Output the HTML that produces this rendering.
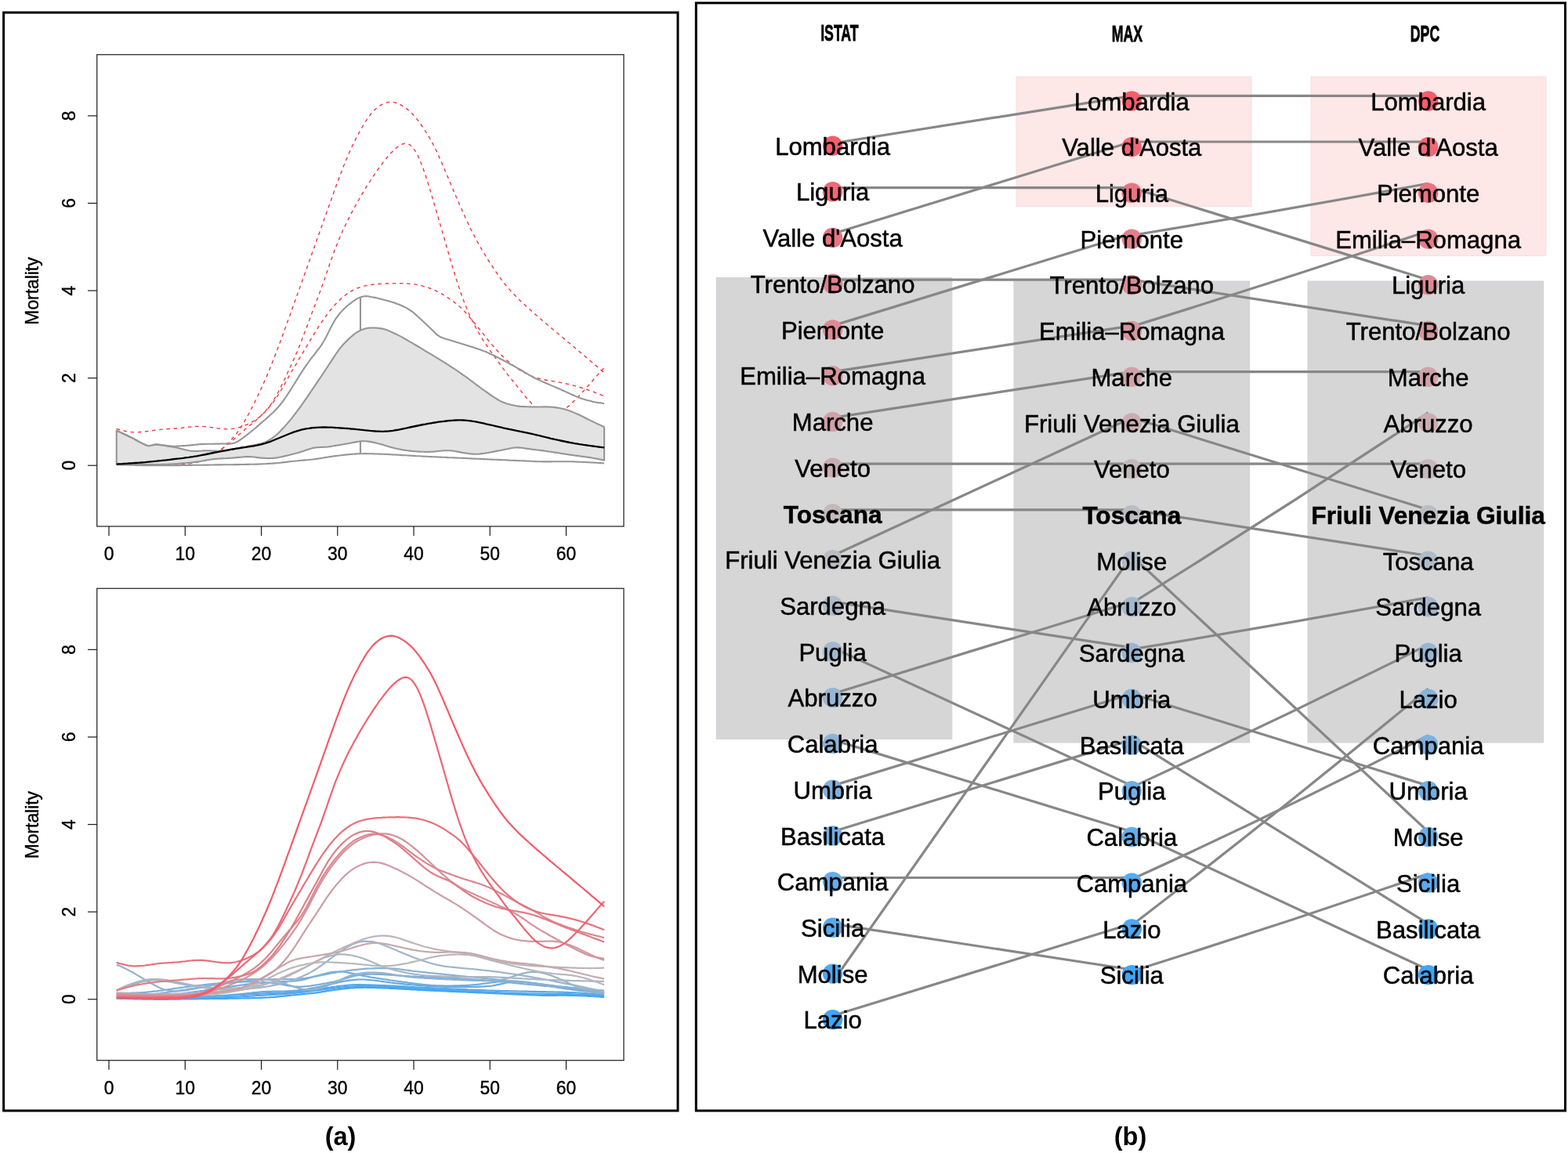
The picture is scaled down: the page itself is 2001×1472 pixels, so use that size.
<!DOCTYPE html>
<html lang="en"><head><meta charset="utf-8"><title>Figure</title>
<style>
html,body{margin:0;padding:0;background:#fff;}
body{width:2001px;height:1472px;overflow:hidden;}
svg{display:block;}
text{font-family:"Liberation Sans",sans-serif;fill:#000;}
.ax{font-size:23.8px;stroke:#000;stroke-width:0.4px;}
.lb{font-size:31.1px;stroke:#000;stroke-width:0.5px;}
.hd{font-size:30px;font-weight:bold;stroke:#000;stroke-width:0.8px;}
.cap{font-size:32.5px;font-weight:bold;}
</style></head>
<body>
<svg width="2001" height="1472" viewBox="0 0 2001 1472">
<rect x="0" y="0" width="2001" height="1472" fill="#fff"/>
<g id="panel-a">
<rect x="4.6" y="16" width="860.4" height="1402" fill="#fff" stroke="#000" stroke-width="3"/>
<g id="top-plot">
<path d="M148.7 592.6 L151.2 592.6 L153.6 592.7 L156.0 592.7 L158.4 592.7 L160.9 592.8 L163.3 592.8 L165.7 592.9 L168.2 592.9 L170.6 592.9 L173.0 593.0 L175.5 593.0 L177.9 593.0 L180.3 593.0 L182.8 593.1 L185.2 593.1 L187.6 593.1 L190.1 593.1 L192.5 593.2 L194.9 593.2 L197.3 593.2 L199.8 593.2 L202.2 593.2 L204.6 593.2 L207.1 593.2 L209.5 593.2 L211.9 593.2 L214.4 593.2 L216.8 593.2 L219.2 593.2 L221.7 593.1 L224.1 593.1 L226.5 593.0 L229.0 592.9 L231.4 592.8 L233.8 592.7 L236.2 592.5 L238.7 592.2 L241.1 592.0 L243.5 591.7 L246.0 591.3 L248.4 590.9 L250.8 590.4 L253.3 589.8 L255.7 589.2 L258.1 588.4 L260.6 587.5 L263.0 586.5 L265.4 585.4 L267.9 584.1 L270.3 582.7 L272.7 581.2 L275.1 579.5 L277.6 577.7 L280.0 575.8 L282.4 573.8 L284.9 571.7 L287.3 569.4 L289.7 567.1 L292.2 564.6 L294.6 562.0 L297.0 559.3 L299.5 556.4 L301.9 553.3 L304.3 550.0 L306.8 546.4 L309.2 542.6 L311.6 538.7 L314.0 534.4 L316.5 530.0 L318.9 525.5 L321.3 520.8 L323.8 516.0 L326.2 511.0 L328.6 506.0 L331.1 500.9 L333.5 495.7 L335.9 490.3 L338.4 484.8 L340.8 479.2 L343.2 473.4 L345.7 467.5 L348.1 461.4 L350.5 455.2 L352.9 448.9 L355.4 442.4 L357.8 435.9 L360.2 429.3 L362.7 422.6 L365.1 415.9 L367.5 409.1 L370.0 402.4 L372.4 395.6 L374.8 388.8 L377.3 382.0 L379.7 375.2 L382.1 368.4 L384.6 361.7 L387.0 354.9 L389.4 348.1 L391.9 341.4 L394.3 334.6 L396.7 327.8 L399.1 321.0 L401.6 314.2 L404.0 307.4 L406.4 300.5 L408.9 293.7 L411.3 286.8 L413.7 279.9 L416.2 273.1 L418.6 266.2 L421.0 259.4 L423.5 252.6 L425.9 245.8 L428.3 239.1 L430.8 232.5 L433.2 226.0 L435.6 219.6 L438.0 213.3 L440.5 207.2 L442.9 201.4 L445.3 195.7 L447.8 190.2 L450.2 185.1 L452.6 180.1 L455.1 175.3 L457.5 170.7 L459.9 166.3 L462.4 162.0 L464.8 157.9 L467.2 154.0 L469.6 150.4 L472.1 147.1 L474.5 144.1 L476.9 141.4 L479.4 139.1 L481.8 137.1 L484.2 135.3 L486.7 133.8 L489.1 132.5 L491.5 131.5 L494.0 130.8 L496.4 130.3 L498.8 130.2 L501.3 130.3 L503.7 130.8 L506.1 131.5 L508.6 132.5 L511.0 133.7 L513.4 135.1 L515.8 136.7 L518.3 138.4 L520.7 140.3 L523.1 142.4 L525.6 144.8 L528.0 147.3 L530.4 150.1 L532.9 153.2 L535.3 156.4 L537.7 159.8 L540.2 163.3 L542.6 167.0 L545.0 170.8 L547.5 174.8 L549.9 179.0 L552.3 183.5 L554.7 188.3 L557.2 193.3 L559.6 198.6 L562.0 204.1 L564.5 209.6 L566.9 215.3 L569.3 221.1 L571.8 226.8 L574.2 232.5 L576.6 238.3 L579.1 244.0 L581.5 249.7 L583.9 255.3 L586.3 260.9 L588.8 266.4 L591.2 271.9 L593.6 277.2 L596.1 282.5 L598.5 287.7 L600.9 292.7 L603.4 297.6 L605.8 302.3 L608.2 306.9 L610.7 311.3 L613.1 315.6 L615.5 319.8 L618.0 323.8 L620.4 327.8 L622.8 331.7 L625.2 335.5 L627.7 339.2 L630.1 342.9 L632.5 346.5 L635.0 350.0 L637.4 353.5 L639.8 356.8 L642.3 360.0 L644.7 363.1 L647.1 366.1 L649.6 368.9 L652.0 371.6 L654.4 374.3 L656.9 376.8 L659.3 379.3 L661.7 381.7 L664.1 384.1 L666.6 386.4 L669.0 388.6 L671.4 390.9 L673.9 393.0 L676.3 395.2 L678.7 397.4 L681.2 399.5 L683.6 401.7 L686.0 403.8 L688.5 405.9 L690.9 408.0 L693.3 410.1 L695.8 412.2 L698.2 414.2 L700.6 416.3 L703.0 418.3 L705.5 420.4 L707.9 422.4 L710.3 424.5 L712.8 426.5 L715.2 428.5 L717.6 430.6 L720.1 432.6 L722.5 434.7 L724.9 436.7 L727.4 438.7 L729.8 440.8 L732.2 442.8 L734.7 444.9 L737.1 446.9 L739.5 448.9 L741.9 451.0 L744.4 453.0 L746.8 455.1 L749.2 457.1 L751.7 459.2 L754.1 461.3 L756.5 463.3 L759.0 465.4 L761.4 467.5 L763.8 469.6 L766.3 471.7 L768.7 473.8 L771.1 476.0" fill="none" stroke="#ee323c" stroke-width="1.35" stroke-dasharray="4.6 4.6"/>
<path d="M148.7 591.5 L151.2 591.5 L153.6 591.6 L156.0 591.6 L158.4 591.7 L160.9 591.7 L163.3 591.8 L165.7 591.8 L168.2 591.8 L170.6 591.9 L173.0 591.9 L175.5 591.9 L177.9 591.9 L180.3 592.0 L182.8 592.0 L185.2 592.0 L187.6 592.0 L190.1 592.0 L192.5 592.0 L194.9 592.0 L197.3 592.0 L199.8 592.0 L202.2 591.9 L204.6 591.9 L207.1 591.9 L209.5 591.8 L211.9 591.8 L214.4 591.7 L216.8 591.7 L219.2 591.6 L221.7 591.6 L224.1 591.5 L226.5 591.4 L229.0 591.3 L231.4 591.2 L233.8 591.0 L236.2 590.9 L238.7 590.6 L241.1 590.4 L243.5 590.1 L246.0 589.7 L248.4 589.2 L250.8 588.7 L253.3 588.1 L255.7 587.4 L258.1 586.6 L260.6 585.7 L263.0 584.7 L265.4 583.5 L267.9 582.3 L270.3 581.0 L272.7 579.7 L275.1 578.2 L277.6 576.8 L280.0 575.2 L282.4 573.6 L284.9 571.9 L287.3 570.1 L289.7 568.2 L292.2 566.2 L294.6 564.2 L297.0 562.1 L299.5 560.0 L301.9 557.8 L304.3 555.6 L306.8 553.5 L309.2 551.3 L311.6 549.2 L314.0 547.1 L316.5 545.1 L318.9 543.0 L321.3 541.0 L323.8 539.0 L326.2 537.0 L328.6 534.8 L331.1 532.6 L333.5 530.2 L335.9 527.7 L338.4 525.1 L340.8 522.3 L343.2 519.4 L345.7 516.1 L348.1 512.6 L350.5 508.7 L352.9 504.5 L355.4 500.0 L357.8 495.3 L360.2 490.3 L362.7 485.3 L365.1 480.1 L367.5 474.9 L370.0 469.6 L372.4 464.3 L374.8 458.9 L377.3 453.3 L379.7 447.6 L382.1 441.7 L384.6 435.6 L387.0 429.3 L389.4 422.8 L391.9 416.3 L394.3 409.7 L396.7 403.2 L399.1 396.7 L401.6 390.4 L404.0 384.0 L406.4 377.6 L408.9 371.1 L411.3 364.5 L413.7 357.6 L416.2 350.5 L418.6 343.4 L421.0 336.3 L423.5 329.3 L425.9 322.6 L428.3 316.2 L430.8 310.1 L433.2 304.2 L435.6 298.6 L438.0 293.2 L440.5 288.0 L442.9 283.0 L445.3 278.1 L447.8 273.4 L450.2 268.8 L452.6 264.3 L455.1 259.9 L457.5 255.6 L459.9 251.4 L462.4 247.3 L464.8 243.2 L467.2 239.2 L469.6 235.3 L472.1 231.5 L474.5 227.8 L476.9 224.1 L479.4 220.5 L481.8 217.0 L484.2 213.6 L486.7 210.3 L489.1 207.1 L491.5 204.0 L494.0 201.0 L496.4 198.1 L498.8 195.4 L501.3 192.9 L503.7 190.6 L506.1 188.5 L508.6 186.7 L511.0 185.2 L513.4 184.0 L515.8 183.3 L518.3 183.2 L520.7 183.7 L523.1 185.0 L525.6 187.0 L528.0 189.9 L530.4 193.6 L532.9 198.0 L535.3 203.2 L537.7 209.1 L540.2 215.6 L542.6 222.7 L545.0 230.1 L547.5 237.9 L549.9 245.9 L552.3 254.1 L554.7 262.3 L557.2 270.7 L559.6 279.0 L562.0 287.4 L564.5 295.9 L566.9 304.3 L569.3 312.8 L571.8 321.2 L574.2 329.6 L576.6 337.9 L579.1 346.0 L581.5 353.9 L583.9 361.5 L586.3 368.8 L588.8 375.8 L591.2 382.5 L593.6 388.8 L596.1 394.8 L598.5 400.4 L600.9 405.8 L603.4 410.8 L605.8 415.6 L608.2 420.2 L610.7 424.5 L613.1 428.7 L615.5 432.7 L618.0 436.5 L620.4 440.2 L622.8 443.7 L625.2 447.2 L627.7 450.6 L630.1 453.9 L632.5 457.3 L635.0 460.7 L637.4 464.0 L639.8 467.4 L642.3 470.8 L644.7 474.1 L647.1 477.3 L649.6 480.4 L652.0 483.4 L654.4 486.3 L656.9 489.3 L659.3 492.3 L661.7 495.3 L664.1 498.3 L666.6 501.4 L669.0 504.4 L671.4 507.3 L673.9 510.1 L676.3 512.8 L678.7 515.4 L681.2 517.8 L683.6 519.9 L686.0 521.9 L688.5 523.6 L690.9 525.1 L693.3 526.4 L695.8 527.4 L698.2 528.2 L700.6 528.7 L703.0 528.9 L705.5 528.8 L707.9 528.5 L710.3 527.9 L712.8 527.0 L715.2 525.9 L717.6 524.5 L720.1 522.9 L722.5 521.1 L724.9 519.1 L727.4 516.9 L729.8 514.6 L732.2 512.2 L734.7 509.7 L737.1 507.2 L739.5 504.7 L741.9 502.1 L744.4 499.5 L746.8 496.8 L749.2 494.1 L751.7 491.3 L754.1 488.5 L756.5 485.7 L759.0 482.9 L761.4 480.1 L763.8 477.3 L766.3 474.6 L768.7 471.9 L771.1 469.3" fill="none" stroke="#ee323c" stroke-width="1.35" stroke-dasharray="4.6 4.6"/>
<path d="M148.7 547.4 L151.2 548.1 L153.6 548.8 L156.0 549.4 L158.4 550.0 L160.9 550.6 L163.3 551.1 L165.7 551.4 L168.2 551.7 L170.6 551.9 L173.0 551.9 L175.5 551.9 L177.9 551.7 L180.3 551.5 L182.8 551.3 L185.2 551.0 L187.6 550.6 L190.1 550.3 L192.5 550.0 L194.9 549.6 L197.3 549.3 L199.8 549.0 L202.2 548.7 L204.6 548.4 L207.1 548.2 L209.5 548.0 L211.9 547.8 L214.4 547.7 L216.8 547.5 L219.2 547.4 L221.7 547.2 L224.1 547.0 L226.5 546.8 L229.0 546.6 L231.4 546.3 L233.8 546.0 L236.2 545.8 L238.7 545.5 L241.1 545.2 L243.5 545.0 L246.0 544.7 L248.4 544.5 L250.8 544.4 L253.3 544.3 L255.7 544.3 L258.1 544.4 L260.6 544.6 L263.0 544.8 L265.4 545.1 L267.9 545.4 L270.3 545.8 L272.7 546.1 L275.1 546.5 L277.6 546.8 L280.0 547.1 L282.4 547.4 L284.9 547.6 L287.3 547.7 L289.7 547.8 L292.2 547.8 L294.6 547.6 L297.0 547.4 L299.5 547.0 L301.9 546.5 L304.3 545.8 L306.8 545.1 L309.2 544.3 L311.6 543.4 L314.0 542.4 L316.5 541.3 L318.9 540.1 L321.3 538.9 L323.8 537.5 L326.2 536.0 L328.6 534.3 L331.1 532.4 L333.5 530.3 L335.9 528.1 L338.4 525.7 L340.8 523.1 L343.2 520.3 L345.7 517.4 L348.1 514.3 L350.5 511.0 L352.9 507.5 L355.4 503.8 L357.8 499.8 L360.2 495.6 L362.7 491.3 L365.1 486.9 L367.5 482.6 L370.0 478.3 L372.4 474.0 L374.8 469.9 L377.3 465.8 L379.7 461.7 L382.1 457.6 L384.6 453.5 L387.0 449.4 L389.4 445.3 L391.9 441.2 L394.3 437.1 L396.7 433.1 L399.1 429.1 L401.6 425.1 L404.0 421.2 L406.4 417.4 L408.9 413.7 L411.3 410.0 L413.7 406.5 L416.2 403.1 L418.6 399.8 L421.0 396.7 L423.5 393.7 L425.9 390.9 L428.3 388.2 L430.8 385.7 L433.2 383.3 L435.6 381.0 L438.0 378.9 L440.5 377.0 L442.9 375.1 L445.3 373.5 L447.8 371.9 L450.2 370.6 L452.6 369.4 L455.1 368.3 L457.5 367.3 L459.9 366.5 L462.4 365.8 L464.8 365.2 L467.2 364.7 L469.6 364.2 L472.1 363.8 L474.5 363.5 L476.9 363.2 L479.4 362.9 L481.8 362.7 L484.2 362.5 L486.7 362.4 L489.1 362.2 L491.5 362.1 L494.0 362.0 L496.4 361.9 L498.8 361.8 L501.3 361.8 L503.7 361.8 L506.1 361.7 L508.6 361.7 L511.0 361.8 L513.4 361.8 L515.8 361.9 L518.3 362.0 L520.7 362.1 L523.1 362.3 L525.6 362.6 L528.0 362.9 L530.4 363.2 L532.9 363.7 L535.3 364.1 L537.7 364.7 L540.2 365.3 L542.6 366.0 L545.0 366.8 L547.5 367.6 L549.9 368.5 L552.3 369.5 L554.7 370.6 L557.2 371.7 L559.6 372.9 L562.0 374.2 L564.5 375.6 L566.9 377.1 L569.3 378.6 L571.8 380.3 L574.2 382.0 L576.6 383.7 L579.1 385.4 L581.5 387.2 L583.9 389.1 L586.3 391.1 L588.8 393.4 L591.2 395.9 L593.6 398.5 L596.1 401.3 L598.5 404.1 L600.9 407.0 L603.4 409.9 L605.8 412.8 L608.2 415.8 L610.7 418.8 L613.1 421.8 L615.5 424.8 L618.0 427.9 L620.4 430.9 L622.8 434.0 L625.2 436.9 L627.7 439.9 L630.1 442.7 L632.5 445.5 L635.0 448.2 L637.4 450.8 L639.8 453.3 L642.3 455.7 L644.7 458.0 L647.1 460.2 L649.6 462.3 L652.0 464.3 L654.4 466.2 L656.9 468.1 L659.3 469.8 L661.7 471.4 L664.1 472.9 L666.6 474.4 L669.0 475.7 L671.4 476.9 L673.9 478.1 L676.3 479.2 L678.7 480.2 L681.2 481.1 L683.6 482.0 L686.0 482.7 L688.5 483.4 L690.9 484.0 L693.3 484.5 L695.8 485.0 L698.2 485.5 L700.6 485.9 L703.0 486.3 L705.5 486.7 L707.9 487.1 L710.3 487.5 L712.8 487.9 L715.2 488.4 L717.6 488.8 L720.1 489.3 L722.5 489.8 L724.9 490.4 L727.4 491.0 L729.8 491.6 L732.2 492.2 L734.7 492.9 L737.1 493.6 L739.5 494.3 L741.9 495.0 L744.4 495.8 L746.8 496.6 L749.2 497.4 L751.7 498.3 L754.1 499.1 L756.5 500.0 L759.0 500.9 L761.4 501.9 L763.8 502.8 L766.3 503.8 L768.7 504.8 L771.1 505.8" fill="none" stroke="#ee323c" stroke-width="1.35" stroke-dasharray="4.6 4.6"/>
<path d="M148.7 549.6 L151.2 550.7 L153.6 551.9 L156.0 553.0 L158.4 554.2 L160.9 555.3 L163.3 556.5 L165.7 557.7 L168.2 558.9 L170.6 560.1 L173.0 561.4 L175.5 562.8 L177.9 564.1 L180.3 565.4 L182.8 566.6 L185.2 567.8 L187.6 568.8 L190.1 569.1 L192.5 568.8 L194.9 568.2 L197.3 567.6 L199.8 567.4 L202.2 567.7 L204.6 568.1 L207.1 568.4 L209.5 568.8 L211.9 569.2 L214.4 569.6 L216.8 570.0 L219.2 570.4 L221.7 570.8 L224.1 571.3 L226.5 571.8 L229.0 572.4 L231.4 573.0 L233.8 573.6 L236.2 574.3 L238.7 574.8 L241.1 575.3 L243.5 575.7 L246.0 575.9 L248.4 576.0 L250.8 575.9 L253.3 575.8 L255.7 575.7 L258.1 575.5 L260.6 575.4 L263.0 575.3 L265.4 575.3 L267.9 575.4 L270.3 575.5 L272.7 575.6 L275.1 575.6 L277.6 575.7 L280.0 575.6 L282.4 575.4 L284.9 575.1 L287.3 574.8 L289.7 574.4 L292.2 574.0 L294.6 573.6 L297.0 573.2 L299.5 572.8 L301.9 572.4 L304.3 572.0 L306.8 571.5 L309.2 571.1 L311.6 570.7 L314.0 570.3 L316.5 569.8 L318.9 569.3 L321.3 568.8 L323.8 568.3 L326.2 567.8 L328.6 567.3 L331.1 566.7 L333.5 566.1 L335.9 565.4 L338.4 564.4 L340.8 563.3 L343.2 562.0 L345.7 560.5 L348.1 558.9 L350.5 557.0 L352.9 555.0 L355.4 552.8 L357.8 550.4 L360.2 547.8 L362.7 545.1 L365.1 542.4 L367.5 539.6 L370.0 536.8 L372.4 533.8 L374.8 530.7 L377.3 527.5 L379.7 524.2 L382.1 521.0 L384.6 517.6 L387.0 514.2 L389.4 510.7 L391.9 507.2 L394.3 503.6 L396.7 500.0 L399.1 496.4 L401.6 492.8 L404.0 489.2 L406.4 485.6 L408.9 482.0 L411.3 478.4 L413.7 474.7 L416.2 471.0 L418.6 467.3 L421.0 463.6 L423.5 459.8 L425.9 456.1 L428.3 452.5 L430.8 448.9 L433.2 445.6 L435.6 442.6 L438.0 439.8 L440.5 437.3 L442.9 434.8 L445.3 432.4 L447.8 430.2 L450.2 428.1 L452.6 426.2 L455.1 424.5 L457.5 423.1 L459.9 421.8 L462.4 420.8 L464.8 420.0 L467.2 419.3 L469.6 418.8 L472.1 418.6 L474.5 418.5 L476.9 418.5 L479.4 418.6 L481.8 418.8 L484.2 419.1 L486.7 419.4 L489.1 419.9 L491.5 420.6 L494.0 421.4 L496.4 422.4 L498.8 423.5 L501.3 424.6 L503.7 425.7 L506.1 426.9 L508.6 428.1 L511.0 429.4 L513.4 430.7 L515.8 432.1 L518.3 433.5 L520.7 434.9 L523.1 436.3 L525.6 437.7 L528.0 439.1 L530.4 440.5 L532.9 442.0 L535.3 443.4 L537.7 444.9 L540.2 446.4 L542.6 447.8 L545.0 449.3 L547.5 450.8 L549.9 452.2 L552.3 453.7 L554.7 455.2 L557.2 456.7 L559.6 458.2 L562.0 459.7 L564.5 461.2 L566.9 462.7 L569.3 464.2 L571.8 465.7 L574.2 467.3 L576.6 468.8 L579.1 470.4 L581.5 472.0 L583.9 473.7 L586.3 475.4 L588.8 477.1 L591.2 478.8 L593.6 480.5 L596.1 482.2 L598.5 484.0 L600.9 485.8 L603.4 487.6 L605.8 489.5 L608.2 491.3 L610.7 493.2 L613.1 495.0 L615.5 496.8 L618.0 498.5 L620.4 500.2 L622.8 501.9 L625.2 503.6 L627.7 505.3 L630.1 506.9 L632.5 508.4 L635.0 510.0 L637.4 511.4 L639.8 512.7 L642.3 513.7 L644.7 514.6 L647.1 515.4 L649.6 516.1 L652.0 516.8 L654.4 517.3 L656.9 517.8 L659.3 518.3 L661.7 518.6 L664.1 518.9 L666.6 519.0 L669.0 519.1 L671.4 519.2 L673.9 519.3 L676.3 519.4 L678.7 519.5 L681.2 519.5 L683.6 519.5 L686.0 519.5 L688.5 519.5 L690.9 519.5 L693.3 519.4 L695.8 519.4 L698.2 519.4 L700.6 519.5 L703.0 519.6 L705.5 519.8 L707.9 520.1 L710.3 520.4 L712.8 520.8 L715.2 521.2 L717.6 521.7 L720.1 522.3 L722.5 523.0 L724.9 523.8 L727.4 524.7 L729.8 525.6 L732.2 526.6 L734.7 527.6 L737.1 528.7 L739.5 529.8 L741.9 531.0 L744.4 532.3 L746.8 533.5 L749.2 534.7 L751.7 535.9 L754.1 537.1 L756.5 538.3 L759.0 539.4 L761.4 540.6 L763.8 541.7 L766.3 542.9 L768.7 544.0 L771.1 545.1 L771.1 587.6 L768.7 587.1 L766.3 586.6 L763.8 586.1 L761.4 585.6 L759.0 585.2 L756.5 584.8 L754.1 584.3 L751.7 583.9 L749.2 583.6 L746.8 583.2 L744.4 582.9 L741.9 582.6 L739.5 582.2 L737.1 581.9 L734.7 581.6 L732.2 581.3 L729.8 580.9 L727.4 580.6 L724.9 580.2 L722.5 579.9 L720.1 579.5 L717.6 579.1 L715.2 578.7 L712.8 578.3 L710.3 577.9 L707.9 577.6 L705.5 577.2 L703.0 576.8 L700.6 576.5 L698.2 576.1 L695.8 575.8 L693.3 575.4 L690.9 575.1 L688.5 574.8 L686.0 574.5 L683.6 574.2 L681.2 573.9 L678.7 573.6 L676.3 573.2 L673.9 572.9 L671.4 572.6 L669.0 572.2 L666.6 571.8 L664.1 571.6 L661.7 571.4 L659.3 571.4 L656.9 571.5 L654.4 571.8 L652.0 572.2 L649.6 572.7 L647.1 573.2 L644.7 573.7 L642.3 574.2 L639.8 574.7 L637.4 575.2 L635.0 575.6 L632.5 576.1 L630.1 576.6 L627.7 577.1 L625.2 577.5 L622.8 578.0 L620.4 578.4 L618.0 578.8 L615.5 579.1 L613.1 579.4 L610.7 579.7 L608.2 579.8 L605.8 579.8 L603.4 579.6 L600.9 579.4 L598.5 579.1 L596.1 578.7 L593.6 578.4 L591.2 578.0 L588.8 577.6 L586.3 577.1 L583.9 576.6 L581.5 576.2 L579.1 575.8 L576.6 575.5 L574.2 575.2 L571.8 575.2 L569.3 575.2 L566.9 575.3 L564.5 575.5 L562.0 575.7 L559.6 575.9 L557.2 576.2 L554.7 576.4 L552.3 576.7 L549.9 576.8 L547.5 576.9 L545.0 577.0 L542.6 576.9 L540.2 576.8 L537.7 576.7 L535.3 576.6 L532.9 576.5 L530.4 576.3 L528.0 576.1 L525.6 575.9 L523.1 575.6 L520.7 575.3 L518.3 575.0 L515.8 574.6 L513.4 574.3 L511.0 573.8 L508.6 573.3 L506.1 572.8 L503.7 572.3 L501.3 571.6 L498.8 570.9 L496.4 570.2 L494.0 569.5 L491.5 568.7 L489.1 568.0 L486.7 567.3 L484.2 566.7 L481.8 566.0 L479.4 565.4 L476.9 564.9 L474.5 564.4 L472.1 563.9 L469.6 563.6 L467.2 563.3 L464.8 563.2 L462.4 563.3 L459.9 563.4 L457.5 563.7 L455.1 564.1 L452.6 564.6 L450.2 565.0 L447.8 565.5 L445.3 566.0 L442.9 566.5 L440.5 566.9 L438.0 567.3 L435.6 567.7 L433.2 568.1 L430.8 568.5 L428.3 568.9 L425.9 569.3 L423.5 569.7 L421.0 570.1 L418.6 570.5 L416.2 570.7 L413.7 570.8 L411.3 570.9 L408.9 571.0 L406.4 571.1 L404.0 571.3 L401.6 571.6 L399.1 572.0 L396.7 572.7 L394.3 573.4 L391.9 574.2 L389.4 575.0 L387.0 575.9 L384.6 576.7 L382.1 577.5 L379.7 578.2 L377.3 578.8 L374.8 579.5 L372.4 580.1 L370.0 580.7 L367.5 581.3 L365.1 581.9 L362.7 582.4 L360.2 583.0 L357.8 583.5 L355.4 584.0 L352.9 584.4 L350.5 584.7 L348.1 584.9 L345.7 585.0 L343.2 585.1 L340.8 585.0 L338.4 584.9 L335.9 584.8 L333.5 584.6 L331.1 584.4 L328.6 584.1 L326.2 583.8 L323.8 583.5 L321.3 583.3 L318.9 583.1 L316.5 583.1 L314.0 583.1 L311.6 583.3 L309.2 583.5 L306.8 583.7 L304.3 583.9 L301.9 584.1 L299.5 584.4 L297.0 584.6 L294.6 584.8 L292.2 584.9 L289.7 585.0 L287.3 585.2 L284.9 585.3 L282.4 585.4 L280.0 585.5 L277.6 585.7 L275.1 585.9 L272.7 586.1 L270.3 586.4 L267.9 586.8 L265.4 587.2 L263.0 587.6 L260.6 588.1 L258.1 588.5 L255.7 589.0 L253.3 589.3 L250.8 589.7 L248.4 589.9 L246.0 590.2 L243.5 590.5 L241.1 590.7 L238.7 591.0 L236.2 591.2 L233.8 591.4 L231.4 591.6 L229.0 591.8 L226.5 592.0 L224.1 592.2 L221.7 592.3 L219.2 592.5 L216.8 592.6 L214.4 592.7 L211.9 592.8 L209.5 592.8 L207.1 592.9 L204.6 593.0 L202.2 593.0 L199.8 593.1 L197.3 593.1 L194.9 593.1 L192.5 593.1 L190.1 593.1 L187.6 593.1 L185.2 593.1 L182.8 593.1 L180.3 593.1 L177.9 593.1 L175.5 593.1 L173.0 593.0 L170.6 593.0 L168.2 593.0 L165.7 593.0 L163.3 592.9 L160.9 592.9 L158.4 592.8 L156.0 592.8 L153.6 592.7 L151.2 592.6 L148.7 592.6 Z" fill="#e3e3e3" stroke="#969696" stroke-width="2.1" stroke-linejoin="round"/>
<path d="M148.7 549.6 L151.2 550.7 L153.6 551.9 L156.0 553.0 L158.4 554.2 L160.9 555.3 L163.3 556.5 L165.7 557.7 L168.2 558.9 L170.6 560.2 L173.0 561.5 L175.5 562.8 L177.9 564.2 L180.3 565.4 L182.8 566.7 L185.2 567.8 L187.6 568.8 L190.1 569.1 L192.5 568.9 L194.9 568.3 L197.3 567.7 L199.8 567.5 L202.2 567.6 L204.6 567.8 L207.1 568.2 L209.5 568.5 L211.9 568.8 L214.4 569.2 L216.8 569.4 L219.2 569.6 L221.7 569.7 L224.1 569.7 L226.5 569.6 L229.0 569.5 L231.4 569.3 L233.8 569.1 L236.2 569.0 L238.7 568.8 L241.1 568.6 L243.5 568.4 L246.0 568.1 L248.4 567.8 L250.8 567.6 L253.3 567.3 L255.7 567.1 L258.1 567.0 L260.6 566.9 L263.0 566.8 L265.4 566.8 L267.9 566.7 L270.3 566.7 L272.7 566.7 L275.1 566.6 L277.6 566.6 L280.0 566.6 L282.4 566.5 L284.9 566.5 L287.3 566.5 L289.7 566.4 L292.2 566.4 L294.6 566.4 L297.0 566.1 L299.5 565.4 L301.9 564.3 L304.3 563.0 L306.8 561.4 L309.2 559.7 L311.6 557.9 L314.0 556.0 L316.5 554.1 L318.9 552.2 L321.3 550.2 L323.8 548.2 L326.2 546.2 L328.6 544.1 L331.1 542.0 L333.5 539.9 L335.9 537.8 L338.4 535.7 L340.8 533.5 L343.2 531.4 L345.7 529.1 L348.1 526.9 L350.5 524.6 L352.9 522.1 L355.4 519.4 L357.8 516.5 L360.2 513.3 L362.7 510.0 L365.1 506.5 L367.5 502.8 L370.0 499.1 L372.4 495.2 L374.8 491.3 L377.3 487.4 L379.7 483.5 L382.1 479.6 L384.6 475.7 L387.0 471.9 L389.4 468.3 L391.9 464.8 L394.3 461.5 L396.7 458.2 L399.1 455.1 L401.6 452.0 L404.0 448.8 L406.4 445.6 L408.9 442.3 L411.3 438.8 L413.7 434.7 L416.2 430.2 L418.6 425.4 L421.0 420.5 L423.5 415.8 L425.9 411.3 L428.3 407.2 L430.8 403.8 L433.2 400.7 L435.6 397.9 L438.0 395.3 L440.5 392.9 L442.9 390.7 L445.3 388.7 L447.8 386.8 L450.2 385.0 L452.6 383.3 L455.1 381.7 L457.5 380.4 L459.9 379.4 L462.4 378.7 L464.8 378.3 L467.2 378.1 L469.6 378.3 L472.1 378.7 L474.5 379.2 L476.9 379.6 L479.4 380.1 L481.8 380.7 L484.2 381.3 L486.7 381.9 L489.1 382.5 L491.5 383.2 L494.0 383.8 L496.4 384.5 L498.8 385.3 L501.3 386.0 L503.7 386.8 L506.1 387.7 L508.6 388.5 L511.0 389.5 L513.4 390.5 L515.8 391.7 L518.3 392.9 L520.7 394.4 L523.1 395.9 L525.6 397.6 L528.0 399.5 L530.4 401.6 L532.9 403.8 L535.3 406.0 L537.7 408.2 L540.2 410.5 L542.6 412.8 L545.0 415.1 L547.5 417.4 L549.9 419.7 L552.3 422.1 L554.7 424.5 L557.2 426.9 L559.6 428.7 L562.0 430.2 L564.5 431.3 L566.9 432.1 L569.3 432.9 L571.8 433.6 L574.2 434.3 L576.6 435.1 L579.1 435.8 L581.5 436.5 L583.9 437.2 L586.3 437.9 L588.8 438.7 L591.2 439.4 L593.6 440.2 L596.1 441.0 L598.5 441.7 L600.9 442.5 L603.4 443.3 L605.8 444.1 L608.2 444.9 L610.7 445.7 L613.1 446.5 L615.5 447.4 L618.0 448.4 L620.4 449.3 L622.8 450.4 L625.2 451.5 L627.7 452.6 L630.1 453.8 L632.5 455.0 L635.0 456.2 L637.4 457.5 L639.8 458.8 L642.3 460.0 L644.7 461.3 L647.1 462.6 L649.6 464.0 L652.0 465.3 L654.4 466.6 L656.9 467.9 L659.3 469.3 L661.7 470.6 L664.1 472.0 L666.6 473.5 L669.0 475.0 L671.4 476.4 L673.9 477.9 L676.3 479.4 L678.7 480.7 L681.2 482.1 L683.6 483.3 L686.0 484.4 L688.5 485.6 L690.9 486.6 L693.3 487.7 L695.8 488.8 L698.2 489.8 L700.6 490.8 L703.0 491.9 L705.5 492.9 L707.9 493.9 L710.3 495.0 L712.8 496.0 L715.2 497.1 L717.6 498.2 L720.1 499.3 L722.5 500.4 L724.9 501.5 L727.4 502.6 L729.8 503.7 L732.2 504.8 L734.7 505.9 L737.1 506.9 L739.5 507.8 L741.9 508.7 L744.4 509.5 L746.8 510.2 L749.2 510.9 L751.7 511.5 L754.1 512.1 L756.5 512.7 L759.0 513.2 L761.4 513.7 L763.8 514.1 L766.3 514.4 L768.7 514.8 L771.1 515.0" fill="none" stroke="#969696" stroke-width="2.1" stroke-linejoin="round"/>
<path d="M148.7 593.1 L151.2 593.2 L153.6 593.3 L156.0 593.4 L158.4 593.4 L160.9 593.5 L163.3 593.6 L165.7 593.7 L168.2 593.7 L170.6 593.8 L173.0 593.9 L175.5 593.9 L177.9 594.0 L180.3 594.0 L182.8 594.1 L185.2 594.1 L187.6 594.2 L190.1 594.2 L192.5 594.2 L194.9 594.3 L197.3 594.3 L199.8 594.3 L202.2 594.3 L204.6 594.3 L207.1 594.3 L209.5 594.3 L211.9 594.3 L214.4 594.3 L216.8 594.2 L219.2 594.2 L221.7 594.2 L224.1 594.2 L226.5 594.1 L229.0 594.1 L231.4 594.0 L233.8 594.0 L236.2 594.0 L238.7 593.9 L241.1 593.9 L243.5 593.9 L246.0 593.8 L248.4 593.8 L250.8 593.8 L253.3 593.7 L255.7 593.7 L258.1 593.7 L260.6 593.6 L263.0 593.6 L265.4 593.6 L267.9 593.5 L270.3 593.5 L272.7 593.5 L275.1 593.4 L277.6 593.4 L280.0 593.4 L282.4 593.4 L284.9 593.3 L287.3 593.3 L289.7 593.3 L292.2 593.2 L294.6 593.2 L297.0 593.2 L299.5 593.1 L301.9 593.1 L304.3 593.1 L306.8 593.0 L309.2 593.0 L311.6 593.0 L314.0 592.9 L316.5 592.9 L318.9 592.8 L321.3 592.8 L323.8 592.7 L326.2 592.6 L328.6 592.6 L331.1 592.5 L333.5 592.4 L335.9 592.3 L338.4 592.2 L340.8 592.0 L343.2 591.9 L345.7 591.8 L348.1 591.6 L350.5 591.4 L352.9 591.2 L355.4 591.0 L357.8 590.7 L360.2 590.4 L362.7 590.1 L365.1 589.9 L367.5 589.6 L370.0 589.3 L372.4 589.0 L374.8 588.7 L377.3 588.5 L379.7 588.3 L382.1 588.0 L384.6 587.8 L387.0 587.6 L389.4 587.4 L391.9 587.2 L394.3 587.0 L396.7 586.7 L399.1 586.5 L401.6 586.2 L404.0 585.9 L406.4 585.5 L408.9 585.1 L411.3 584.7 L413.7 584.3 L416.2 583.9 L418.6 583.5 L421.0 583.1 L423.5 582.7 L425.9 582.4 L428.3 582.1 L430.8 581.8 L433.2 581.5 L435.6 581.2 L438.0 580.9 L440.5 580.6 L442.9 580.4 L445.3 580.2 L447.8 579.9 L450.2 579.7 L452.6 579.6 L455.1 579.4 L457.5 579.3 L459.9 579.2 L462.4 579.2 L464.8 579.1 L467.2 579.1 L469.6 579.2 L472.1 579.2 L474.5 579.3 L476.9 579.4 L479.4 579.5 L481.8 579.5 L484.2 579.6 L486.7 579.7 L489.1 579.8 L491.5 579.9 L494.0 580.0 L496.4 580.1 L498.8 580.2 L501.3 580.4 L503.7 580.5 L506.1 580.6 L508.6 580.8 L511.0 580.9 L513.4 581.1 L515.8 581.2 L518.3 581.3 L520.7 581.5 L523.1 581.6 L525.6 581.8 L528.0 581.9 L530.4 582.1 L532.9 582.2 L535.3 582.3 L537.7 582.5 L540.2 582.6 L542.6 582.7 L545.0 582.8 L547.5 583.0 L549.9 583.1 L552.3 583.2 L554.7 583.3 L557.2 583.4 L559.6 583.5 L562.0 583.6 L564.5 583.7 L566.9 583.8 L569.3 583.9 L571.8 584.1 L574.2 584.2 L576.6 584.3 L579.1 584.4 L581.5 584.5 L583.9 584.6 L586.3 584.7 L588.8 584.8 L591.2 584.9 L593.6 585.0 L596.1 585.1 L598.5 585.3 L600.9 585.4 L603.4 585.5 L605.8 585.6 L608.2 585.7 L610.7 585.8 L613.1 585.9 L615.5 586.0 L618.0 586.1 L620.4 586.2 L622.8 586.4 L625.2 586.5 L627.7 586.6 L630.1 586.7 L632.5 586.8 L635.0 586.9 L637.4 587.0 L639.8 587.1 L642.3 587.2 L644.7 587.3 L647.1 587.4 L649.6 587.6 L652.0 587.7 L654.4 587.8 L656.9 587.9 L659.3 588.0 L661.7 588.1 L664.1 588.2 L666.6 588.3 L669.0 588.4 L671.4 588.5 L673.9 588.6 L676.3 588.7 L678.7 588.8 L681.2 589.0 L683.6 589.1 L686.0 589.2 L688.5 589.3 L690.9 589.3 L693.3 589.4 L695.8 589.4 L698.2 589.4 L700.6 589.4 L703.0 589.4 L705.5 589.3 L707.9 589.3 L710.3 589.3 L712.8 589.2 L715.2 589.2 L717.6 589.2 L720.1 589.2 L722.5 589.2 L724.9 589.2 L727.4 589.3 L729.8 589.3 L732.2 589.4 L734.7 589.5 L737.1 589.6 L739.5 589.7 L741.9 589.8 L744.4 589.9 L746.8 590.0 L749.2 590.1 L751.7 590.2 L754.1 590.4 L756.5 590.5 L759.0 590.6 L761.4 590.8 L763.8 591.0 L766.3 591.1 L768.7 591.3 L771.1 591.5" fill="none" stroke="#969696" stroke-width="2.1" stroke-linejoin="round"/>
<line x1="459.925" x2="459.925" y1="379.4" y2="421.8" stroke="#969696" stroke-width="2.1"/>
<line x1="459.925" x2="459.925" y1="563.4" y2="579.2" stroke="#969696" stroke-width="2.1"/>
<path d="M148.7 592.6 L151.2 592.4 L153.6 592.3 L156.0 592.2 L158.4 592.0 L160.9 591.9 L163.3 591.7 L165.7 591.5 L168.2 591.4 L170.6 591.2 L173.0 591.0 L175.5 590.8 L177.9 590.7 L180.3 590.5 L182.8 590.3 L185.2 590.1 L187.6 589.8 L190.1 589.6 L192.5 589.4 L194.9 589.2 L197.3 588.9 L199.8 588.7 L202.2 588.4 L204.6 588.2 L207.1 587.9 L209.5 587.6 L211.9 587.4 L214.4 587.1 L216.8 586.8 L219.2 586.5 L221.7 586.2 L224.1 585.9 L226.5 585.6 L229.0 585.4 L231.4 585.1 L233.8 584.8 L236.2 584.4 L238.7 584.1 L241.1 583.8 L243.5 583.4 L246.0 583.1 L248.4 582.7 L250.8 582.3 L253.3 581.8 L255.7 581.4 L258.1 580.9 L260.6 580.5 L263.0 580.0 L265.4 579.5 L267.9 579.0 L270.3 578.5 L272.7 578.0 L275.1 577.5 L277.6 577.1 L280.0 576.6 L282.4 576.2 L284.9 575.7 L287.3 575.3 L289.7 574.8 L292.2 574.4 L294.6 573.9 L297.0 573.5 L299.5 573.1 L301.9 572.7 L304.3 572.3 L306.8 571.9 L309.2 571.5 L311.6 571.1 L314.0 570.8 L316.5 570.4 L318.9 570.0 L321.3 569.6 L323.8 569.3 L326.2 568.8 L328.6 568.4 L331.1 567.9 L333.5 567.4 L335.9 566.7 L338.4 566.0 L340.8 565.2 L343.2 564.4 L345.7 563.5 L348.1 562.5 L350.5 561.5 L352.9 560.5 L355.4 559.5 L357.8 558.5 L360.2 557.5 L362.7 556.5 L365.1 555.5 L367.5 554.5 L370.0 553.5 L372.4 552.6 L374.8 551.7 L377.3 550.9 L379.7 550.1 L382.1 549.4 L384.6 548.7 L387.0 548.2 L389.4 547.7 L391.9 547.2 L394.3 546.9 L396.7 546.5 L399.1 546.2 L401.6 546.0 L404.0 545.8 L406.4 545.7 L408.9 545.6 L411.3 545.5 L413.7 545.5 L416.2 545.5 L418.6 545.6 L421.0 545.6 L423.5 545.7 L425.9 545.8 L428.3 546.0 L430.8 546.1 L433.2 546.3 L435.6 546.5 L438.0 546.6 L440.5 546.8 L442.9 547.0 L445.3 547.2 L447.8 547.5 L450.2 547.7 L452.6 547.9 L455.1 548.2 L457.5 548.4 L459.9 548.7 L462.4 548.9 L464.8 549.2 L467.2 549.4 L469.6 549.6 L472.1 549.9 L474.5 550.1 L476.9 550.3 L479.4 550.5 L481.8 550.6 L484.2 550.7 L486.7 550.8 L489.1 550.8 L491.5 550.7 L494.0 550.6 L496.4 550.4 L498.8 550.1 L501.3 549.8 L503.7 549.4 L506.1 549.0 L508.6 548.6 L511.0 548.1 L513.4 547.6 L515.8 547.1 L518.3 546.6 L520.7 546.0 L523.1 545.5 L525.6 545.0 L528.0 544.5 L530.4 544.0 L532.9 543.5 L535.3 543.0 L537.7 542.5 L540.2 542.0 L542.6 541.6 L545.0 541.1 L547.5 540.7 L549.9 540.3 L552.3 539.9 L554.7 539.5 L557.2 539.1 L559.6 538.7 L562.0 538.4 L564.5 538.1 L566.9 537.8 L569.3 537.5 L571.8 537.2 L574.2 537.0 L576.6 536.8 L579.1 536.6 L581.5 536.5 L583.9 536.4 L586.3 536.4 L588.8 536.4 L591.2 536.5 L593.6 536.7 L596.1 536.9 L598.5 537.1 L600.9 537.4 L603.4 537.8 L605.8 538.2 L608.2 538.7 L610.7 539.2 L613.1 539.7 L615.5 540.2 L618.0 540.7 L620.4 541.3 L622.8 541.8 L625.2 542.4 L627.7 542.9 L630.1 543.5 L632.5 544.0 L635.0 544.6 L637.4 545.2 L639.8 545.7 L642.3 546.3 L644.7 546.8 L647.1 547.3 L649.6 547.9 L652.0 548.4 L654.4 548.9 L656.9 549.4 L659.3 549.9 L661.7 550.3 L664.1 550.8 L666.6 551.3 L669.0 551.8 L671.4 552.3 L673.9 552.8 L676.3 553.4 L678.7 553.9 L681.2 554.5 L683.6 555.1 L686.0 555.7 L688.5 556.2 L690.9 556.8 L693.3 557.4 L695.8 558.0 L698.2 558.6 L700.6 559.2 L703.0 559.8 L705.5 560.3 L707.9 560.9 L710.3 561.4 L712.8 562.0 L715.2 562.5 L717.6 563.0 L720.1 563.5 L722.5 564.0 L724.9 564.5 L727.4 565.0 L729.8 565.4 L732.2 565.9 L734.7 566.3 L737.1 566.7 L739.5 567.1 L741.9 567.4 L744.4 567.8 L746.8 568.1 L749.2 568.5 L751.7 568.8 L754.1 569.2 L756.5 569.5 L759.0 569.8 L761.4 570.1 L763.8 570.5 L766.3 570.8 L768.7 571.1 L771.1 571.4" fill="none" stroke="#000" stroke-width="2.3"/>
<rect x="123.75" y="69.75" width="672.25" height="602.25" fill="none" stroke="#1a1a1a" stroke-width="1.2"/>
<line x1="139.00" y1="672" x2="139.00" y2="684" stroke="#1a1a1a" stroke-width="1.2"/>
<text transform="translate(139.00 715.4) scale(0.96 1)" text-anchor="middle" class="ax">0</text>
<line x1="236.25" y1="672" x2="236.25" y2="684" stroke="#1a1a1a" stroke-width="1.2"/>
<text transform="translate(236.25 715.4) scale(0.96 1)" text-anchor="middle" class="ax">10</text>
<line x1="333.50" y1="672" x2="333.50" y2="684" stroke="#1a1a1a" stroke-width="1.2"/>
<text transform="translate(333.50 715.4) scale(0.96 1)" text-anchor="middle" class="ax">20</text>
<line x1="430.75" y1="672" x2="430.75" y2="684" stroke="#1a1a1a" stroke-width="1.2"/>
<text transform="translate(430.75 715.4) scale(0.96 1)" text-anchor="middle" class="ax">30</text>
<line x1="528.00" y1="672" x2="528.00" y2="684" stroke="#1a1a1a" stroke-width="1.2"/>
<text transform="translate(528.00 715.4) scale(0.96 1)" text-anchor="middle" class="ax">40</text>
<line x1="625.25" y1="672" x2="625.25" y2="684" stroke="#1a1a1a" stroke-width="1.2"/>
<text transform="translate(625.25 715.4) scale(0.96 1)" text-anchor="middle" class="ax">50</text>
<line x1="722.50" y1="672" x2="722.50" y2="684" stroke="#1a1a1a" stroke-width="1.2"/>
<text transform="translate(722.50 715.4) scale(0.96 1)" text-anchor="middle" class="ax">60</text>
<line x1="112" y1="594.25" x2="123.75" y2="594.25" stroke="#1a1a1a" stroke-width="1.2"/>
<text transform="translate(96 594.25) rotate(-90) scale(0.96 1)" text-anchor="middle" class="ax">0</text>
<line x1="112" y1="482.65" x2="123.75" y2="482.65" stroke="#1a1a1a" stroke-width="1.2"/>
<text transform="translate(96 482.65) rotate(-90) scale(0.96 1)" text-anchor="middle" class="ax">2</text>
<line x1="112" y1="371.05" x2="123.75" y2="371.05" stroke="#1a1a1a" stroke-width="1.2"/>
<text transform="translate(96 371.05) rotate(-90) scale(0.96 1)" text-anchor="middle" class="ax">4</text>
<line x1="112" y1="259.45" x2="123.75" y2="259.45" stroke="#1a1a1a" stroke-width="1.2"/>
<text transform="translate(96 259.45) rotate(-90) scale(0.96 1)" text-anchor="middle" class="ax">6</text>
<line x1="112" y1="147.85" x2="123.75" y2="147.85" stroke="#1a1a1a" stroke-width="1.2"/>
<text transform="translate(96 147.85) rotate(-90) scale(0.96 1)" text-anchor="middle" class="ax">8</text>
<text transform="translate(48.8 371.5) rotate(-90) scale(0.96 1)" text-anchor="middle" class="ax">Mortality</text>
</g>
<g id="bottom-plot">
<path d="M148.7 1274.6 L151.2 1274.7 L153.6 1274.8 L156.0 1274.9 L158.4 1274.9 L160.9 1275.0 L163.3 1275.1 L165.7 1275.1 L168.2 1275.2 L170.6 1275.3 L173.0 1275.3 L175.5 1275.4 L177.9 1275.5 L180.3 1275.5 L182.8 1275.6 L185.2 1275.6 L187.6 1275.6 L190.1 1275.7 L192.5 1275.7 L194.9 1275.7 L197.3 1275.8 L199.8 1275.8 L202.2 1275.8 L204.6 1275.8 L207.1 1275.8 L209.5 1275.8 L211.9 1275.8 L214.4 1275.8 L216.8 1275.7 L219.2 1275.7 L221.7 1275.7 L224.1 1275.6 L226.5 1275.6 L229.0 1275.6 L231.4 1275.5 L233.8 1275.5 L236.2 1275.5 L238.7 1275.4 L241.1 1275.4 L243.5 1275.4 L246.0 1275.3 L248.4 1275.3 L250.8 1275.3 L253.3 1275.2 L255.7 1275.2 L258.1 1275.2 L260.6 1275.1 L263.0 1275.1 L265.4 1275.1 L267.9 1275.0 L270.3 1275.0 L272.7 1275.0 L275.1 1274.9 L277.6 1274.9 L280.0 1274.9 L282.4 1274.9 L284.9 1274.8 L287.3 1274.8 L289.7 1274.8 L292.2 1274.7 L294.6 1274.7 L297.0 1274.7 L299.5 1274.6 L301.9 1274.6 L304.3 1274.6 L306.8 1274.5 L309.2 1274.5 L311.6 1274.4 L314.0 1274.4 L316.5 1274.4 L318.9 1274.3 L321.3 1274.2 L323.8 1274.2 L326.2 1274.1 L328.6 1274.0 L331.1 1273.9 L333.5 1273.8 L335.9 1273.7 L338.4 1273.6 L340.8 1273.5 L343.2 1273.4 L345.7 1273.2 L348.1 1273.0 L350.5 1272.8 L352.9 1272.6 L355.4 1272.4 L357.8 1272.2 L360.2 1271.9 L362.7 1271.6 L365.1 1271.3 L367.5 1271.1 L370.0 1270.8 L372.4 1270.5 L374.8 1270.3 L377.3 1270.0 L379.7 1269.8 L382.1 1269.6 L384.6 1269.3 L387.0 1269.1 L389.4 1268.9 L391.9 1268.7 L394.3 1268.4 L396.7 1268.2 L399.1 1267.9 L401.6 1267.6 L404.0 1267.3 L406.4 1266.9 L408.9 1266.6 L411.3 1266.2 L413.7 1265.8 L416.2 1265.4 L418.6 1265.0 L421.0 1264.7 L423.5 1264.3 L425.9 1264.0 L428.3 1263.6 L430.8 1263.3 L433.2 1263.0 L435.6 1262.7 L438.0 1262.5 L440.5 1262.2 L442.9 1262.0 L445.3 1261.7 L447.8 1261.5 L450.2 1261.3 L452.6 1261.2 L455.1 1261.0 L457.5 1260.9 L459.9 1260.8 L462.4 1260.8 L464.8 1260.7 L467.2 1260.7 L469.6 1260.8 L472.1 1260.8 L474.5 1260.8 L476.9 1260.9 L479.4 1261.0 L481.8 1261.1 L484.2 1261.1 L486.7 1261.2 L489.1 1261.3 L491.5 1261.4 L494.0 1261.5 L496.4 1261.7 L498.8 1261.8 L501.3 1261.9 L503.7 1262.0 L506.1 1262.2 L508.6 1262.3 L511.0 1262.4 L513.4 1262.6 L515.8 1262.7 L518.3 1262.8 L520.7 1263.0 L523.1 1263.1 L525.6 1263.3 L528.0 1263.4 L530.4 1263.5 L532.9 1263.7 L535.3 1263.8 L537.7 1263.9 L540.2 1264.1 L542.6 1264.2 L545.0 1264.3 L547.5 1264.4 L549.9 1264.6 L552.3 1264.7 L554.7 1264.8 L557.2 1264.9 L559.6 1265.0 L562.0 1265.1 L564.5 1265.2 L566.9 1265.3 L569.3 1265.4 L571.8 1265.6 L574.2 1265.7 L576.6 1265.8 L579.1 1265.9 L581.5 1266.0 L583.9 1266.1 L586.3 1266.2 L588.8 1266.3 L591.2 1266.4 L593.6 1266.5 L596.1 1266.6 L598.5 1266.8 L600.9 1266.9 L603.4 1267.0 L605.8 1267.1 L608.2 1267.2 L610.7 1267.3 L613.1 1267.4 L615.5 1267.5 L618.0 1267.6 L620.4 1267.7 L622.8 1267.9 L625.2 1268.0 L627.7 1268.1 L630.1 1268.2 L632.5 1268.3 L635.0 1268.4 L637.4 1268.5 L639.8 1268.6 L642.3 1268.7 L644.7 1268.8 L647.1 1268.9 L649.6 1269.1 L652.0 1269.2 L654.4 1269.3 L656.9 1269.4 L659.3 1269.5 L661.7 1269.6 L664.1 1269.7 L666.6 1269.8 L669.0 1269.9 L671.4 1270.0 L673.9 1270.1 L676.3 1270.2 L678.7 1270.3 L681.2 1270.4 L683.6 1270.5 L686.0 1270.6 L688.5 1270.7 L690.9 1270.8 L693.3 1270.8 L695.8 1270.8 L698.2 1270.9 L700.6 1270.9 L703.0 1270.8 L705.5 1270.8 L707.9 1270.8 L710.3 1270.8 L712.8 1270.7 L715.2 1270.7 L717.6 1270.7 L720.1 1270.7 L722.5 1270.7 L724.9 1270.8 L727.4 1270.8 L729.8 1270.9 L732.2 1270.9 L734.7 1271.0 L737.1 1271.1 L739.5 1271.2 L741.9 1271.3 L744.4 1271.4 L746.8 1271.5 L749.2 1271.6 L751.7 1271.8 L754.1 1271.9 L756.5 1272.0 L759.0 1272.2 L761.4 1272.3 L763.8 1272.5 L766.3 1272.6 L768.7 1272.8 L771.1 1273.0" fill="none" stroke="#42a5f5" stroke-width="2.2" stroke-linejoin="round" stroke-linecap="butt"/>
<path d="M148.7 1274.1 L151.2 1274.1 L153.6 1274.2 L156.0 1274.2 L158.4 1274.2 L160.9 1274.3 L163.3 1274.3 L165.7 1274.4 L168.2 1274.4 L170.6 1274.4 L173.0 1274.5 L175.5 1274.5 L177.9 1274.5 L180.3 1274.5 L182.8 1274.6 L185.2 1274.6 L187.6 1274.6 L190.1 1274.6 L192.5 1274.6 L194.9 1274.6 L197.3 1274.6 L199.8 1274.7 L202.2 1274.7 L204.6 1274.7 L207.1 1274.7 L209.5 1274.7 L211.9 1274.6 L214.4 1274.6 L216.8 1274.6 L219.2 1274.6 L221.7 1274.6 L224.1 1274.6 L226.5 1274.5 L229.0 1274.5 L231.4 1274.5 L233.8 1274.5 L236.2 1274.4 L238.7 1274.4 L241.1 1274.3 L243.5 1274.3 L246.0 1274.3 L248.4 1274.2 L250.8 1274.2 L253.3 1274.1 L255.7 1274.1 L258.1 1274.0 L260.6 1274.0 L263.0 1273.9 L265.4 1273.9 L267.9 1273.8 L270.3 1273.8 L272.7 1273.7 L275.1 1273.6 L277.6 1273.6 L280.0 1273.5 L282.4 1273.4 L284.9 1273.3 L287.3 1273.2 L289.7 1273.1 L292.2 1273.0 L294.6 1272.9 L297.0 1272.8 L299.5 1272.7 L301.9 1272.6 L304.3 1272.5 L306.8 1272.3 L309.2 1272.2 L311.6 1272.0 L314.0 1271.9 L316.5 1271.8 L318.9 1271.6 L321.3 1271.5 L323.8 1271.3 L326.2 1271.2 L328.6 1271.0 L331.1 1270.9 L333.5 1270.7 L335.9 1270.6 L338.4 1270.4 L340.8 1270.3 L343.2 1270.2 L345.7 1270.0 L348.1 1269.9 L350.5 1269.7 L352.9 1269.6 L355.4 1269.4 L357.8 1269.3 L360.2 1269.1 L362.7 1268.9 L365.1 1268.8 L367.5 1268.6 L370.0 1268.4 L372.4 1268.2 L374.8 1267.9 L377.3 1267.7 L379.7 1267.4 L382.1 1267.2 L384.6 1266.9 L387.0 1266.6 L389.4 1266.3 L391.9 1266.0 L394.3 1265.7 L396.7 1265.4 L399.1 1265.0 L401.6 1264.7 L404.0 1264.4 L406.4 1264.1 L408.9 1263.8 L411.3 1263.5 L413.7 1263.2 L416.2 1262.9 L418.6 1262.6 L421.0 1262.3 L423.5 1262.0 L425.9 1261.8 L428.3 1261.5 L430.8 1261.2 L433.2 1260.9 L435.6 1260.7 L438.0 1260.4 L440.5 1260.2 L442.9 1260.0 L445.3 1259.8 L447.8 1259.6 L450.2 1259.4 L452.6 1259.3 L455.1 1259.2 L457.5 1259.1 L459.9 1259.0 L462.4 1259.0 L464.8 1259.0 L467.2 1259.0 L469.6 1259.1 L472.1 1259.1 L474.5 1259.2 L476.9 1259.3 L479.4 1259.4 L481.8 1259.4 L484.2 1259.5 L486.7 1259.6 L489.1 1259.7 L491.5 1259.8 L494.0 1260.0 L496.4 1260.1 L498.8 1260.2 L501.3 1260.3 L503.7 1260.4 L506.1 1260.6 L508.6 1260.7 L511.0 1260.8 L513.4 1261.0 L515.8 1261.1 L518.3 1261.2 L520.7 1261.4 L523.1 1261.5 L525.6 1261.7 L528.0 1261.8 L530.4 1262.0 L532.9 1262.1 L535.3 1262.2 L537.7 1262.4 L540.2 1262.5 L542.6 1262.6 L545.0 1262.8 L547.5 1262.9 L549.9 1263.0 L552.3 1263.1 L554.7 1263.2 L557.2 1263.4 L559.6 1263.5 L562.0 1263.6 L564.5 1263.7 L566.9 1263.8 L569.3 1263.9 L571.8 1264.0 L574.2 1264.1 L576.6 1264.2 L579.1 1264.3 L581.5 1264.4 L583.9 1264.5 L586.3 1264.6 L588.8 1264.7 L591.2 1264.9 L593.6 1265.0 L596.1 1265.1 L598.5 1265.3 L600.9 1265.4 L603.4 1265.6 L605.8 1265.7 L608.2 1265.9 L610.7 1266.0 L613.1 1266.1 L615.5 1266.3 L618.0 1266.4 L620.4 1266.6 L622.8 1266.7 L625.2 1266.8 L627.7 1266.9 L630.1 1267.0 L632.5 1267.1 L635.0 1267.2 L637.4 1267.3 L639.8 1267.4 L642.3 1267.5 L644.7 1267.6 L647.1 1267.7 L649.6 1267.8 L652.0 1267.9 L654.4 1267.9 L656.9 1268.0 L659.3 1268.1 L661.7 1268.2 L664.1 1268.2 L666.6 1268.3 L669.0 1268.4 L671.4 1268.4 L673.9 1268.5 L676.3 1268.5 L678.7 1268.6 L681.2 1268.6 L683.6 1268.6 L686.0 1268.7 L688.5 1268.7 L690.9 1268.7 L693.3 1268.7 L695.8 1268.8 L698.2 1268.8 L700.6 1268.8 L703.0 1268.8 L705.5 1268.8 L707.9 1268.8 L710.3 1268.9 L712.8 1268.9 L715.2 1268.9 L717.6 1269.0 L720.1 1269.0 L722.5 1269.1 L724.9 1269.1 L727.4 1269.2 L729.8 1269.3 L732.2 1269.4 L734.7 1269.5 L737.1 1269.5 L739.5 1269.6 L741.9 1269.7 L744.4 1269.8 L746.8 1270.0 L749.2 1270.1 L751.7 1270.2 L754.1 1270.3 L756.5 1270.4 L759.0 1270.6 L761.4 1270.7 L763.8 1270.9 L766.3 1271.0 L768.7 1271.1 L771.1 1271.3" fill="none" stroke="#4ea7f0" stroke-width="2.2" stroke-linejoin="round" stroke-linecap="butt"/>
<path d="M148.7 1273.5 L151.2 1273.6 L153.6 1273.6 L156.0 1273.7 L158.4 1273.7 L160.9 1273.8 L163.3 1273.8 L165.7 1273.9 L168.2 1273.9 L170.6 1274.0 L173.0 1274.0 L175.5 1274.0 L177.9 1274.1 L180.3 1274.1 L182.8 1274.1 L185.2 1274.1 L187.6 1274.2 L190.1 1274.2 L192.5 1274.2 L194.9 1274.2 L197.3 1274.2 L199.8 1274.2 L202.2 1274.2 L204.6 1274.2 L207.1 1274.2 L209.5 1274.1 L211.9 1274.1 L214.4 1274.1 L216.8 1274.1 L219.2 1274.0 L221.7 1274.0 L224.1 1274.0 L226.5 1273.9 L229.0 1273.9 L231.4 1273.8 L233.8 1273.8 L236.2 1273.7 L238.7 1273.6 L241.1 1273.6 L243.5 1273.5 L246.0 1273.4 L248.4 1273.3 L250.8 1273.2 L253.3 1273.1 L255.7 1272.9 L258.1 1272.8 L260.6 1272.7 L263.0 1272.5 L265.4 1272.4 L267.9 1272.3 L270.3 1272.1 L272.7 1272.0 L275.1 1271.8 L277.6 1271.7 L280.0 1271.6 L282.4 1271.4 L284.9 1271.3 L287.3 1271.1 L289.7 1271.0 L292.2 1270.9 L294.6 1270.7 L297.0 1270.6 L299.5 1270.4 L301.9 1270.3 L304.3 1270.2 L306.8 1270.0 L309.2 1269.9 L311.6 1269.8 L314.0 1269.6 L316.5 1269.5 L318.9 1269.3 L321.3 1269.2 L323.8 1269.1 L326.2 1268.9 L328.6 1268.8 L331.1 1268.7 L333.5 1268.5 L335.9 1268.4 L338.4 1268.3 L340.8 1268.2 L343.2 1268.1 L345.7 1268.0 L348.1 1267.9 L350.5 1267.8 L352.9 1267.7 L355.4 1267.6 L357.8 1267.5 L360.2 1267.5 L362.7 1267.3 L365.1 1267.2 L367.5 1267.1 L370.0 1267.0 L372.4 1266.8 L374.8 1266.6 L377.3 1266.4 L379.7 1266.2 L382.1 1266.0 L384.6 1265.7 L387.0 1265.4 L389.4 1265.1 L391.9 1264.7 L394.3 1264.4 L396.7 1264.0 L399.1 1263.7 L401.6 1263.3 L404.0 1262.9 L406.4 1262.5 L408.9 1262.2 L411.3 1261.8 L413.7 1261.5 L416.2 1261.1 L418.6 1260.8 L421.0 1260.5 L423.5 1260.1 L425.9 1259.8 L428.3 1259.5 L430.8 1259.1 L433.2 1258.8 L435.6 1258.5 L438.0 1258.3 L440.5 1258.0 L442.9 1257.8 L445.3 1257.6 L447.8 1257.4 L450.2 1257.3 L452.6 1257.2 L455.1 1257.2 L457.5 1257.2 L459.9 1257.2 L462.4 1257.2 L464.8 1257.2 L467.2 1257.3 L469.6 1257.4 L472.1 1257.4 L474.5 1257.5 L476.9 1257.6 L479.4 1257.7 L481.8 1257.8 L484.2 1257.9 L486.7 1258.0 L489.1 1258.1 L491.5 1258.2 L494.0 1258.3 L496.4 1258.4 L498.8 1258.5 L501.3 1258.6 L503.7 1258.8 L506.1 1258.9 L508.6 1259.0 L511.0 1259.2 L513.4 1259.3 L515.8 1259.4 L518.3 1259.6 L520.7 1259.7 L523.1 1259.9 L525.6 1260.0 L528.0 1260.2 L530.4 1260.3 L532.9 1260.5 L535.3 1260.6 L537.7 1260.7 L540.2 1260.9 L542.6 1261.0 L545.0 1261.1 L547.5 1261.2 L549.9 1261.3 L552.3 1261.4 L554.7 1261.6 L557.2 1261.7 L559.6 1261.8 L562.0 1261.9 L564.5 1262.0 L566.9 1262.1 L569.3 1262.2 L571.8 1262.3 L574.2 1262.4 L576.6 1262.5 L579.1 1262.6 L581.5 1262.7 L583.9 1262.8 L586.3 1262.9 L588.8 1263.0 L591.2 1263.1 L593.6 1263.2 L596.1 1263.4 L598.5 1263.5 L600.9 1263.6 L603.4 1263.7 L605.8 1263.8 L608.2 1263.9 L610.7 1264.0 L613.1 1264.1 L615.5 1264.2 L618.0 1264.3 L620.4 1264.4 L622.8 1264.5 L625.2 1264.6 L627.7 1264.7 L630.1 1264.7 L632.5 1264.8 L635.0 1264.9 L637.4 1264.9 L639.8 1265.0 L642.3 1265.0 L644.7 1265.1 L647.1 1265.2 L649.6 1265.2 L652.0 1265.3 L654.4 1265.3 L656.9 1265.4 L659.3 1265.4 L661.7 1265.5 L664.1 1265.5 L666.6 1265.6 L669.0 1265.6 L671.4 1265.7 L673.9 1265.7 L676.3 1265.8 L678.7 1265.8 L681.2 1265.9 L683.6 1265.9 L686.0 1266.0 L688.5 1266.0 L690.9 1266.1 L693.3 1266.2 L695.8 1266.2 L698.2 1266.3 L700.6 1266.3 L703.0 1266.4 L705.5 1266.4 L707.9 1266.5 L710.3 1266.5 L712.8 1266.6 L715.2 1266.7 L717.6 1266.7 L720.1 1266.8 L722.5 1266.9 L724.9 1266.9 L727.4 1267.0 L729.8 1267.1 L732.2 1267.2 L734.7 1267.3 L737.1 1267.5 L739.5 1267.6 L741.9 1267.8 L744.4 1267.9 L746.8 1268.1 L749.2 1268.3 L751.7 1268.5 L754.1 1268.7 L756.5 1268.9 L759.0 1269.1 L761.4 1269.3 L763.8 1269.5 L766.3 1269.7 L768.7 1270.0 L771.1 1270.2" fill="none" stroke="#59a9ea" stroke-width="2.2" stroke-linejoin="round" stroke-linecap="butt"/>
<path d="M148.7 1273.0 L151.2 1273.0 L153.6 1273.1 L156.0 1273.1 L158.4 1273.2 L160.9 1273.2 L163.3 1273.3 L165.7 1273.3 L168.2 1273.4 L170.6 1273.4 L173.0 1273.4 L175.5 1273.5 L177.9 1273.5 L180.3 1273.5 L182.8 1273.6 L185.2 1273.6 L187.6 1273.6 L190.1 1273.6 L192.5 1273.6 L194.9 1273.6 L197.3 1273.6 L199.8 1273.6 L202.2 1273.6 L204.6 1273.6 L207.1 1273.6 L209.5 1273.6 L211.9 1273.6 L214.4 1273.5 L216.8 1273.5 L219.2 1273.5 L221.7 1273.4 L224.1 1273.4 L226.5 1273.3 L229.0 1273.3 L231.4 1273.2 L233.8 1273.2 L236.2 1273.1 L238.7 1273.0 L241.1 1272.9 L243.5 1272.9 L246.0 1272.8 L248.4 1272.7 L250.8 1272.6 L253.3 1272.5 L255.7 1272.4 L258.1 1272.3 L260.6 1272.2 L263.0 1272.1 L265.4 1271.9 L267.9 1271.8 L270.3 1271.7 L272.7 1271.5 L275.1 1271.4 L277.6 1271.3 L280.0 1271.1 L282.4 1271.0 L284.9 1270.8 L287.3 1270.7 L289.7 1270.5 L292.2 1270.3 L294.6 1270.1 L297.0 1269.9 L299.5 1269.7 L301.9 1269.5 L304.3 1269.3 L306.8 1269.0 L309.2 1268.8 L311.6 1268.5 L314.0 1268.3 L316.5 1268.0 L318.9 1267.8 L321.3 1267.5 L323.8 1267.2 L326.2 1267.0 L328.6 1266.8 L331.1 1266.6 L333.5 1266.4 L335.9 1266.2 L338.4 1266.1 L340.8 1265.9 L343.2 1265.8 L345.7 1265.8 L348.1 1265.7 L350.5 1265.7 L352.9 1265.6 L355.4 1265.6 L357.8 1265.6 L360.2 1265.5 L362.7 1265.5 L365.1 1265.4 L367.5 1265.4 L370.0 1265.2 L372.4 1265.1 L374.8 1264.9 L377.3 1264.7 L379.7 1264.5 L382.1 1264.2 L384.6 1263.9 L387.0 1263.5 L389.4 1263.2 L391.9 1262.8 L394.3 1262.3 L396.7 1261.9 L399.1 1261.4 L401.6 1261.0 L404.0 1260.5 L406.4 1260.0 L408.9 1259.5 L411.3 1259.0 L413.7 1258.4 L416.2 1257.9 L418.6 1257.3 L421.0 1256.8 L423.5 1256.2 L425.9 1255.6 L428.3 1255.1 L430.8 1254.5 L433.2 1254.0 L435.6 1253.4 L438.0 1252.9 L440.5 1252.5 L442.9 1252.1 L445.3 1251.7 L447.8 1251.3 L450.2 1251.1 L452.6 1250.8 L455.1 1250.7 L457.5 1250.5 L459.9 1250.5 L462.4 1250.5 L464.8 1250.5 L467.2 1250.7 L469.6 1250.8 L472.1 1251.0 L474.5 1251.3 L476.9 1251.5 L479.4 1251.8 L481.8 1252.1 L484.2 1252.5 L486.7 1252.8 L489.1 1253.1 L491.5 1253.5 L494.0 1253.8 L496.4 1254.1 L498.8 1254.5 L501.3 1254.8 L503.7 1255.1 L506.1 1255.3 L508.6 1255.6 L511.0 1255.9 L513.4 1256.1 L515.8 1256.4 L518.3 1256.6 L520.7 1256.8 L523.1 1257.0 L525.6 1257.3 L528.0 1257.5 L530.4 1257.7 L532.9 1257.9 L535.3 1258.1 L537.7 1258.3 L540.2 1258.5 L542.6 1258.6 L545.0 1258.8 L547.5 1259.0 L549.9 1259.1 L552.3 1259.2 L554.7 1259.3 L557.2 1259.5 L559.6 1259.5 L562.0 1259.6 L564.5 1259.7 L566.9 1259.8 L569.3 1259.8 L571.8 1259.9 L574.2 1259.9 L576.6 1260.0 L579.1 1260.0 L581.5 1260.0 L583.9 1260.1 L586.3 1260.1 L588.8 1260.1 L591.2 1260.1 L593.6 1260.1 L596.1 1260.1 L598.5 1260.0 L600.9 1260.0 L603.4 1259.9 L605.8 1259.8 L608.2 1259.8 L610.7 1259.7 L613.1 1259.6 L615.5 1259.5 L618.0 1259.3 L620.4 1259.2 L622.8 1259.0 L625.2 1258.8 L627.7 1258.5 L630.1 1258.1 L632.5 1257.7 L635.0 1257.2 L637.4 1256.7 L639.8 1256.1 L642.3 1255.6 L644.7 1255.0 L647.1 1254.5 L649.6 1254.1 L652.0 1253.7 L654.4 1253.5 L656.9 1253.3 L659.3 1253.2 L661.7 1253.3 L664.1 1253.4 L666.6 1253.6 L669.0 1253.8 L671.4 1254.0 L673.9 1254.3 L676.3 1254.6 L678.7 1254.9 L681.2 1255.2 L683.6 1255.5 L686.0 1255.8 L688.5 1256.2 L690.9 1256.5 L693.3 1256.9 L695.8 1257.2 L698.2 1257.6 L700.6 1258.0 L703.0 1258.4 L705.5 1258.7 L707.9 1259.1 L710.3 1259.5 L712.8 1259.9 L715.2 1260.2 L717.6 1260.6 L720.1 1261.0 L722.5 1261.3 L724.9 1261.7 L727.4 1262.0 L729.8 1262.4 L732.2 1262.7 L734.7 1263.1 L737.1 1263.4 L739.5 1263.7 L741.9 1264.1 L744.4 1264.4 L746.8 1264.8 L749.2 1265.1 L751.7 1265.5 L754.1 1265.9 L756.5 1266.3 L759.0 1266.7 L761.4 1267.2 L763.8 1267.6 L766.3 1268.1 L768.7 1268.6 L771.1 1269.1" fill="none" stroke="#65abe5" stroke-width="2.2" stroke-linejoin="round" stroke-linecap="butt"/>
<path d="M148.7 1272.4 L151.2 1272.4 L153.6 1272.4 L156.0 1272.4 L158.4 1272.4 L160.9 1272.4 L163.3 1272.4 L165.7 1272.3 L168.2 1272.3 L170.6 1272.3 L173.0 1272.2 L175.5 1272.1 L177.9 1272.1 L180.3 1272.0 L182.8 1271.9 L185.2 1271.8 L187.6 1271.7 L190.1 1271.6 L192.5 1271.5 L194.9 1271.4 L197.3 1271.3 L199.8 1271.1 L202.2 1271.0 L204.6 1270.8 L207.1 1270.7 L209.5 1270.5 L211.9 1270.4 L214.4 1270.2 L216.8 1270.0 L219.2 1269.8 L221.7 1269.6 L224.1 1269.3 L226.5 1269.1 L229.0 1268.8 L231.4 1268.5 L233.8 1268.2 L236.2 1267.9 L238.7 1267.6 L241.1 1267.2 L243.5 1266.9 L246.0 1266.5 L248.4 1266.2 L250.8 1265.8 L253.3 1265.5 L255.7 1265.1 L258.1 1264.8 L260.6 1264.5 L263.0 1264.1 L265.4 1263.8 L267.9 1263.4 L270.3 1263.1 L272.7 1262.7 L275.1 1262.4 L277.6 1262.0 L280.0 1261.7 L282.4 1261.3 L284.9 1261.0 L287.3 1260.6 L289.7 1260.3 L292.2 1259.9 L294.6 1259.6 L297.0 1259.2 L299.5 1258.9 L301.9 1258.5 L304.3 1258.2 L306.8 1257.8 L309.2 1257.5 L311.6 1257.2 L314.0 1256.8 L316.5 1256.5 L318.9 1256.2 L321.3 1255.9 L323.8 1255.7 L326.2 1255.4 L328.6 1255.2 L331.1 1255.0 L333.5 1254.8 L335.9 1254.6 L338.4 1254.5 L340.8 1254.3 L343.2 1254.1 L345.7 1254.0 L348.1 1253.8 L350.5 1253.6 L352.9 1253.5 L355.4 1253.4 L357.8 1253.3 L360.2 1253.2 L362.7 1253.1 L365.1 1253.0 L367.5 1252.9 L370.0 1252.8 L372.4 1252.7 L374.8 1252.5 L377.3 1252.3 L379.7 1252.0 L382.1 1251.6 L384.6 1251.2 L387.0 1250.7 L389.4 1250.1 L391.9 1249.4 L394.3 1248.7 L396.7 1248.0 L399.1 1247.3 L401.6 1246.5 L404.0 1245.8 L406.4 1245.2 L408.9 1244.5 L411.3 1243.9 L413.7 1243.3 L416.2 1242.7 L418.6 1242.2 L421.0 1241.7 L423.5 1241.2 L425.9 1240.9 L428.3 1240.6 L430.8 1240.5 L433.2 1240.4 L435.6 1240.5 L438.0 1240.7 L440.5 1241.0 L442.9 1241.3 L445.3 1241.8 L447.8 1242.3 L450.2 1242.8 L452.6 1243.3 L455.1 1243.9 L457.5 1244.5 L459.9 1245.0 L462.4 1245.6 L464.8 1246.1 L467.2 1246.5 L469.6 1246.9 L472.1 1247.4 L474.5 1247.8 L476.9 1248.1 L479.4 1248.5 L481.8 1248.9 L484.2 1249.3 L486.7 1249.6 L489.1 1250.0 L491.5 1250.4 L494.0 1250.7 L496.4 1251.1 L498.8 1251.5 L501.3 1251.8 L503.7 1252.2 L506.1 1252.5 L508.6 1252.9 L511.0 1253.2 L513.4 1253.6 L515.8 1253.9 L518.3 1254.2 L520.7 1254.6 L523.1 1254.9 L525.6 1255.2 L528.0 1255.5 L530.4 1255.8 L532.9 1256.2 L535.3 1256.4 L537.7 1256.7 L540.2 1257.0 L542.6 1257.2 L545.0 1257.5 L547.5 1257.7 L549.9 1257.9 L552.3 1258.0 L554.7 1258.1 L557.2 1258.3 L559.6 1258.3 L562.0 1258.4 L564.5 1258.4 L566.9 1258.5 L569.3 1258.5 L571.8 1258.5 L574.2 1258.5 L576.6 1258.5 L579.1 1258.4 L581.5 1258.4 L583.9 1258.4 L586.3 1258.3 L588.8 1258.2 L591.2 1258.2 L593.6 1258.1 L596.1 1257.9 L598.5 1257.8 L600.9 1257.6 L603.4 1257.4 L605.8 1257.2 L608.2 1257.0 L610.7 1256.7 L613.1 1256.4 L615.5 1256.0 L618.0 1255.7 L620.4 1255.4 L622.8 1255.0 L625.2 1254.7 L627.7 1254.4 L630.1 1254.1 L632.5 1253.8 L635.0 1253.5 L637.4 1253.3 L639.8 1253.0 L642.3 1252.8 L644.7 1252.7 L647.1 1252.6 L649.6 1252.5 L652.0 1252.5 L654.4 1252.5 L656.9 1252.6 L659.3 1252.7 L661.7 1252.9 L664.1 1253.1 L666.6 1253.4 L669.0 1253.6 L671.4 1253.9 L673.9 1254.2 L676.3 1254.6 L678.7 1254.9 L681.2 1255.3 L683.6 1255.7 L686.0 1256.1 L688.5 1256.5 L690.9 1256.9 L693.3 1257.3 L695.8 1257.8 L698.2 1258.2 L700.6 1258.6 L703.0 1259.1 L705.5 1259.5 L707.9 1259.9 L710.3 1260.4 L712.8 1260.8 L715.2 1261.2 L717.6 1261.6 L720.1 1261.9 L722.5 1262.3 L724.9 1262.7 L727.4 1263.0 L729.8 1263.3 L732.2 1263.7 L734.7 1264.0 L737.1 1264.3 L739.5 1264.6 L741.9 1264.9 L744.4 1265.2 L746.8 1265.5 L749.2 1265.7 L751.7 1266.0 L754.1 1266.3 L756.5 1266.5 L759.0 1266.8 L761.4 1267.0 L763.8 1267.3 L766.3 1267.5 L768.7 1267.7 L771.1 1267.9" fill="none" stroke="#70addf" stroke-width="2.2" stroke-linejoin="round" stroke-linecap="butt"/>
<path d="M148.7 1267.9 L151.2 1267.9 L153.6 1267.9 L156.0 1267.9 L158.4 1267.9 L160.9 1267.8 L163.3 1267.8 L165.7 1267.8 L168.2 1267.7 L170.6 1267.6 L173.0 1267.5 L175.5 1267.4 L177.9 1267.3 L180.3 1267.1 L182.8 1267.0 L185.2 1266.8 L187.6 1266.6 L190.1 1266.4 L192.5 1266.2 L194.9 1265.9 L197.3 1265.6 L199.8 1265.3 L202.2 1265.0 L204.6 1264.7 L207.1 1264.4 L209.5 1264.0 L211.9 1263.7 L214.4 1263.3 L216.8 1262.9 L219.2 1262.6 L221.7 1262.2 L224.1 1261.8 L226.5 1261.5 L229.0 1261.1 L231.4 1260.8 L233.8 1260.5 L236.2 1260.2 L238.7 1259.8 L241.1 1259.5 L243.5 1259.2 L246.0 1258.9 L248.4 1258.7 L250.8 1258.4 L253.3 1258.1 L255.7 1257.8 L258.1 1257.5 L260.6 1257.2 L263.0 1257.0 L265.4 1256.7 L267.9 1256.4 L270.3 1256.2 L272.7 1255.9 L275.1 1255.7 L277.6 1255.5 L280.0 1255.2 L282.4 1255.0 L284.9 1254.8 L287.3 1254.7 L289.7 1254.5 L292.2 1254.3 L294.6 1254.2 L297.0 1254.0 L299.5 1253.9 L301.9 1253.8 L304.3 1253.7 L306.8 1253.7 L309.2 1253.6 L311.6 1253.5 L314.0 1253.5 L316.5 1253.5 L318.9 1253.5 L321.3 1253.6 L323.8 1253.6 L326.2 1253.7 L328.6 1253.8 L331.1 1253.9 L333.5 1254.1 L335.9 1254.3 L338.4 1254.4 L340.8 1254.6 L343.2 1254.8 L345.7 1255.0 L348.1 1255.3 L350.5 1255.5 L352.9 1255.8 L355.4 1256.2 L357.8 1256.5 L360.2 1256.9 L362.7 1257.4 L365.1 1257.8 L367.5 1258.3 L370.0 1258.7 L372.4 1259.0 L374.8 1259.3 L377.3 1259.6 L379.7 1259.7 L382.1 1259.8 L384.6 1259.7 L387.0 1259.6 L389.4 1259.4 L391.9 1259.2 L394.3 1258.9 L396.7 1258.6 L399.1 1258.2 L401.6 1257.8 L404.0 1257.4 L406.4 1257.0 L408.9 1256.6 L411.3 1256.2 L413.7 1255.7 L416.2 1255.3 L418.6 1254.8 L421.0 1254.3 L423.5 1253.8 L425.9 1253.3 L428.3 1252.7 L430.8 1252.1 L433.2 1251.5 L435.6 1250.8 L438.0 1250.1 L440.5 1249.4 L442.9 1248.6 L445.3 1247.9 L447.8 1247.2 L450.2 1246.5 L452.6 1245.9 L455.1 1245.4 L457.5 1245.0 L459.9 1244.6 L462.4 1244.3 L464.8 1244.0 L467.2 1243.9 L469.6 1243.8 L472.1 1243.7 L474.5 1243.7 L476.9 1243.7 L479.4 1243.8 L481.8 1243.9 L484.2 1244.0 L486.7 1244.1 L489.1 1244.2 L491.5 1244.4 L494.0 1244.5 L496.4 1244.7 L498.8 1244.9 L501.3 1245.0 L503.7 1245.2 L506.1 1245.3 L508.6 1245.5 L511.0 1245.6 L513.4 1245.8 L515.8 1245.9 L518.3 1246.1 L520.7 1246.2 L523.1 1246.4 L525.6 1246.5 L528.0 1246.6 L530.4 1246.7 L532.9 1246.9 L535.3 1247.0 L537.7 1247.1 L540.2 1247.2 L542.6 1247.3 L545.0 1247.4 L547.5 1247.5 L549.9 1247.6 L552.3 1247.7 L554.7 1247.8 L557.2 1247.9 L559.6 1248.0 L562.0 1248.1 L564.5 1248.3 L566.9 1248.4 L569.3 1248.5 L571.8 1248.6 L574.2 1248.7 L576.6 1248.8 L579.1 1249.0 L581.5 1249.1 L583.9 1249.2 L586.3 1249.3 L588.8 1249.5 L591.2 1249.6 L593.6 1249.7 L596.1 1249.9 L598.5 1250.0 L600.9 1250.2 L603.4 1250.3 L605.8 1250.5 L608.2 1250.6 L610.7 1250.8 L613.1 1251.0 L615.5 1251.1 L618.0 1251.3 L620.4 1251.5 L622.8 1251.7 L625.2 1251.9 L627.7 1252.1 L630.1 1252.3 L632.5 1252.6 L635.0 1252.8 L637.4 1253.0 L639.8 1253.3 L642.3 1253.5 L644.7 1253.8 L647.1 1254.0 L649.6 1254.3 L652.0 1254.5 L654.4 1254.8 L656.9 1255.0 L659.3 1255.3 L661.7 1255.5 L664.1 1255.8 L666.6 1256.0 L669.0 1256.3 L671.4 1256.5 L673.9 1256.8 L676.3 1257.0 L678.7 1257.2 L681.2 1257.5 L683.6 1257.7 L686.0 1257.9 L688.5 1258.1 L690.9 1258.3 L693.3 1258.6 L695.8 1258.8 L698.2 1259.0 L700.6 1259.2 L703.0 1259.4 L705.5 1259.7 L707.9 1259.9 L710.3 1260.1 L712.8 1260.3 L715.2 1260.6 L717.6 1260.8 L720.1 1261.0 L722.5 1261.3 L724.9 1261.5 L727.4 1261.7 L729.8 1262.0 L732.2 1262.3 L734.7 1262.5 L737.1 1262.8 L739.5 1263.1 L741.9 1263.3 L744.4 1263.6 L746.8 1263.9 L749.2 1264.2 L751.7 1264.4 L754.1 1264.7 L756.5 1265.0 L759.0 1265.3 L761.4 1265.6 L763.8 1265.9 L766.3 1266.2 L768.7 1266.5 L771.1 1266.8" fill="none" stroke="#7cafda" stroke-width="2.2" stroke-linejoin="round" stroke-linecap="butt"/>
<path d="M148.7 1270.2 L151.2 1270.2 L153.6 1270.3 L156.0 1270.4 L158.4 1270.5 L160.9 1270.5 L163.3 1270.5 L165.7 1270.6 L168.2 1270.6 L170.6 1270.6 L173.0 1270.6 L175.5 1270.5 L177.9 1270.4 L180.3 1270.4 L182.8 1270.2 L185.2 1270.1 L187.6 1269.9 L190.1 1269.7 L192.5 1269.5 L194.9 1269.3 L197.3 1269.0 L199.8 1268.7 L202.2 1268.4 L204.6 1268.1 L207.1 1267.7 L209.5 1267.4 L211.9 1267.1 L214.4 1266.7 L216.8 1266.4 L219.2 1266.0 L221.7 1265.7 L224.1 1265.3 L226.5 1264.9 L229.0 1264.6 L231.4 1264.2 L233.8 1263.8 L236.2 1263.5 L238.7 1263.1 L241.1 1262.7 L243.5 1262.3 L246.0 1261.9 L248.4 1261.6 L250.8 1261.2 L253.3 1260.8 L255.7 1260.4 L258.1 1260.0 L260.6 1259.6 L263.0 1259.2 L265.4 1258.9 L267.9 1258.5 L270.3 1258.1 L272.7 1257.7 L275.1 1257.4 L277.6 1257.0 L280.0 1256.6 L282.4 1256.3 L284.9 1255.9 L287.3 1255.6 L289.7 1255.3 L292.2 1254.9 L294.6 1254.6 L297.0 1254.3 L299.5 1254.0 L301.9 1253.7 L304.3 1253.4 L306.8 1253.1 L309.2 1252.9 L311.6 1252.6 L314.0 1252.4 L316.5 1252.1 L318.9 1251.9 L321.3 1251.7 L323.8 1251.5 L326.2 1251.4 L328.6 1251.2 L331.1 1251.1 L333.5 1250.9 L335.9 1250.8 L338.4 1250.7 L340.8 1250.6 L343.2 1250.5 L345.7 1250.4 L348.1 1250.3 L350.5 1250.2 L352.9 1250.2 L355.4 1250.2 L357.8 1250.1 L360.2 1250.2 L362.7 1250.2 L365.1 1250.2 L367.5 1250.2 L370.0 1250.2 L372.4 1250.2 L374.8 1250.2 L377.3 1250.0 L379.7 1249.9 L382.1 1249.7 L384.6 1249.4 L387.0 1249.1 L389.4 1248.8 L391.9 1248.4 L394.3 1248.0 L396.7 1247.6 L399.1 1247.1 L401.6 1246.7 L404.0 1246.3 L406.4 1245.8 L408.9 1245.3 L411.3 1244.9 L413.7 1244.4 L416.2 1243.9 L418.6 1243.5 L421.0 1243.0 L423.5 1242.5 L425.9 1242.1 L428.3 1241.6 L430.8 1241.2 L433.2 1240.8 L435.6 1240.4 L438.0 1240.0 L440.5 1239.7 L442.9 1239.3 L445.3 1239.0 L447.8 1238.7 L450.2 1238.4 L452.6 1238.1 L455.1 1237.8 L457.5 1237.6 L459.9 1237.3 L462.4 1237.1 L464.8 1236.9 L467.2 1236.7 L469.6 1236.6 L472.1 1236.5 L474.5 1236.4 L476.9 1236.3 L479.4 1236.2 L481.8 1236.1 L484.2 1236.1 L486.7 1236.1 L489.1 1236.1 L491.5 1236.1 L494.0 1236.2 L496.4 1236.3 L498.8 1236.4 L501.3 1236.5 L503.7 1236.7 L506.1 1237.0 L508.6 1237.2 L511.0 1237.5 L513.4 1237.8 L515.8 1238.2 L518.3 1238.5 L520.7 1238.8 L523.1 1239.1 L525.6 1239.5 L528.0 1239.8 L530.4 1240.0 L532.9 1240.3 L535.3 1240.6 L537.7 1240.9 L540.2 1241.1 L542.6 1241.4 L545.0 1241.7 L547.5 1241.9 L549.9 1242.2 L552.3 1242.4 L554.7 1242.7 L557.2 1242.9 L559.6 1243.2 L562.0 1243.4 L564.5 1243.7 L566.9 1243.9 L569.3 1244.2 L571.8 1244.4 L574.2 1244.7 L576.6 1244.9 L579.1 1245.1 L581.5 1245.4 L583.9 1245.6 L586.3 1245.8 L588.8 1246.1 L591.2 1246.3 L593.6 1246.5 L596.1 1246.8 L598.5 1247.0 L600.9 1247.2 L603.4 1247.5 L605.8 1247.7 L608.2 1247.9 L610.7 1248.2 L613.1 1248.4 L615.5 1248.7 L618.0 1248.9 L620.4 1249.1 L622.8 1249.4 L625.2 1249.6 L627.7 1249.8 L630.1 1250.1 L632.5 1250.3 L635.0 1250.6 L637.4 1250.8 L639.8 1251.1 L642.3 1251.3 L644.7 1251.5 L647.1 1251.8 L649.6 1252.0 L652.0 1252.3 L654.4 1252.5 L656.9 1252.8 L659.3 1253.0 L661.7 1253.3 L664.1 1253.5 L666.6 1253.8 L669.0 1254.0 L671.4 1254.3 L673.9 1254.6 L676.3 1254.8 L678.7 1255.1 L681.2 1255.4 L683.6 1255.6 L686.0 1255.9 L688.5 1256.2 L690.9 1256.5 L693.3 1256.7 L695.8 1257.0 L698.2 1257.3 L700.6 1257.6 L703.0 1257.9 L705.5 1258.2 L707.9 1258.5 L710.3 1258.8 L712.8 1259.0 L715.2 1259.3 L717.6 1259.6 L720.1 1259.8 L722.5 1260.1 L724.9 1260.4 L727.4 1260.6 L729.8 1260.9 L732.2 1261.1 L734.7 1261.4 L737.1 1261.6 L739.5 1261.8 L741.9 1262.1 L744.4 1262.3 L746.8 1262.5 L749.2 1262.7 L751.7 1262.9 L754.1 1263.2 L756.5 1263.4 L759.0 1263.6 L761.4 1263.8 L763.8 1264.0 L766.3 1264.2 L768.7 1264.4 L771.1 1264.6" fill="none" stroke="#88b1d4" stroke-width="2.2" stroke-linejoin="round" stroke-linecap="butt"/>
<path d="M148.7 1231.7 L151.2 1232.6 L153.6 1233.6 L156.0 1234.7 L158.4 1235.8 L160.9 1236.9 L163.3 1238.2 L165.7 1239.5 L168.2 1240.8 L170.6 1242.2 L173.0 1243.6 L175.5 1245.1 L177.9 1246.5 L180.3 1248.0 L182.8 1249.4 L185.2 1250.9 L187.6 1252.3 L190.1 1253.7 L192.5 1255.1 L194.9 1256.5 L197.3 1257.8 L199.8 1259.1 L202.2 1260.3 L204.6 1261.4 L207.1 1262.4 L209.5 1263.2 L211.9 1263.9 L214.4 1264.5 L216.8 1264.9 L219.2 1265.2 L221.7 1265.3 L224.1 1265.4 L226.5 1265.3 L229.0 1265.2 L231.4 1265.0 L233.8 1264.7 L236.2 1264.4 L238.7 1264.1 L241.1 1263.7 L243.5 1263.2 L246.0 1262.8 L248.4 1262.3 L250.8 1261.9 L253.3 1261.4 L255.7 1260.9 L258.1 1260.5 L260.6 1260.0 L263.0 1259.5 L265.4 1259.0 L267.9 1258.4 L270.3 1257.9 L272.7 1257.3 L275.1 1256.8 L277.6 1256.2 L280.0 1255.6 L282.4 1255.0 L284.9 1254.5 L287.3 1253.9 L289.7 1253.3 L292.2 1252.8 L294.6 1252.3 L297.0 1251.8 L299.5 1251.4 L301.9 1251.0 L304.3 1250.7 L306.8 1250.4 L309.2 1250.2 L311.6 1250.1 L314.0 1250.0 L316.5 1250.0 L318.9 1250.0 L321.3 1250.0 L323.8 1250.1 L326.2 1250.1 L328.6 1250.1 L331.1 1250.2 L333.5 1250.2 L335.9 1250.3 L338.4 1250.5 L340.8 1250.7 L343.2 1250.9 L345.7 1251.2 L348.1 1251.6 L350.5 1252.1 L352.9 1252.7 L355.4 1253.3 L357.8 1254.0 L360.2 1254.8 L362.7 1255.6 L365.1 1256.4 L367.5 1257.3 L370.0 1258.1 L372.4 1258.9 L374.8 1259.7 L377.3 1260.5 L379.7 1261.2 L382.1 1261.9 L384.6 1262.5 L387.0 1263.0 L389.4 1263.3 L391.9 1263.6 L394.3 1263.7 L396.7 1263.6 L399.1 1263.4 L401.6 1263.0 L404.0 1262.6 L406.4 1262.0 L408.9 1261.4 L411.3 1260.7 L413.7 1259.9 L416.2 1259.0 L418.6 1258.1 L421.0 1257.1 L423.5 1256.0 L425.9 1254.9 L428.3 1253.7 L430.8 1252.6 L433.2 1251.4 L435.6 1250.3 L438.0 1249.2 L440.5 1248.1 L442.9 1247.2 L445.3 1246.3 L447.8 1245.4 L450.2 1244.7 L452.6 1244.0 L455.1 1243.5 L457.5 1243.0 L459.9 1242.6 L462.4 1242.3 L464.8 1242.0 L467.2 1241.8 L469.6 1241.7 L472.1 1241.6 L474.5 1241.6 L476.9 1241.6 L479.4 1241.7 L481.8 1241.8 L484.2 1242.0 L486.7 1242.2 L489.1 1242.4 L491.5 1242.7 L494.0 1243.0 L496.4 1243.3 L498.8 1243.7 L501.3 1244.1 L503.7 1244.4 L506.1 1244.8 L508.6 1245.2 L511.0 1245.6 L513.4 1246.0 L515.8 1246.3 L518.3 1246.7 L520.7 1247.0 L523.1 1247.3 L525.6 1247.5 L528.0 1247.8 L530.4 1248.0 L532.9 1248.1 L535.3 1248.3 L537.7 1248.5 L540.2 1248.6 L542.6 1248.8 L545.0 1248.9 L547.5 1249.1 L549.9 1249.2 L552.3 1249.4 L554.7 1249.5 L557.2 1249.6 L559.6 1249.8 L562.0 1249.9 L564.5 1250.0 L566.9 1250.1 L569.3 1250.3 L571.8 1250.4 L574.2 1250.5 L576.6 1250.6 L579.1 1250.8 L581.5 1250.9 L583.9 1251.0 L586.3 1251.1 L588.8 1251.2 L591.2 1251.3 L593.6 1251.4 L596.1 1251.5 L598.5 1251.6 L600.9 1251.7 L603.4 1251.8 L605.8 1251.8 L608.2 1251.9 L610.7 1252.0 L613.1 1252.0 L615.5 1252.1 L618.0 1252.1 L620.4 1252.2 L622.8 1252.2 L625.2 1252.2 L627.7 1252.1 L630.1 1252.0 L632.5 1251.8 L635.0 1251.6 L637.4 1251.3 L639.8 1250.8 L642.3 1250.3 L644.7 1249.8 L647.1 1249.1 L649.6 1248.4 L652.0 1247.6 L654.4 1246.8 L656.9 1246.0 L659.3 1245.1 L661.7 1244.3 L664.1 1243.5 L666.6 1242.9 L669.0 1242.3 L671.4 1241.8 L673.9 1241.4 L676.3 1241.1 L678.7 1241.0 L681.2 1241.0 L683.6 1241.0 L686.0 1241.2 L688.5 1241.5 L690.9 1241.9 L693.3 1242.4 L695.8 1243.0 L698.2 1243.7 L700.6 1244.5 L703.0 1245.3 L705.5 1246.2 L707.9 1247.2 L710.3 1248.1 L712.8 1249.2 L715.2 1250.2 L717.6 1251.3 L720.1 1252.5 L722.5 1253.6 L724.9 1254.7 L727.4 1255.9 L729.8 1257.0 L732.2 1258.2 L734.7 1259.3 L737.1 1260.3 L739.5 1261.3 L741.9 1262.2 L744.4 1263.1 L746.8 1263.9 L749.2 1264.6 L751.7 1265.3 L754.1 1265.9 L756.5 1266.5 L759.0 1267.0 L761.4 1267.4 L763.8 1267.8 L766.3 1268.2 L768.7 1268.5 L771.1 1268.8" fill="none" stroke="#93b3cf" stroke-width="2.2" stroke-linejoin="round" stroke-linecap="butt"/>
<path d="M148.7 1264.6 L151.2 1263.6 L153.6 1262.7 L156.0 1261.7 L158.4 1260.8 L160.9 1259.9 L163.3 1259.1 L165.7 1258.2 L168.2 1257.4 L170.6 1256.6 L173.0 1255.8 L175.5 1255.1 L177.9 1254.4 L180.3 1253.7 L182.8 1253.2 L185.2 1252.7 L187.6 1252.2 L190.1 1251.9 L192.5 1251.7 L194.9 1251.5 L197.3 1251.5 L199.8 1251.5 L202.2 1251.6 L204.6 1251.8 L207.1 1252.1 L209.5 1252.4 L211.9 1252.7 L214.4 1253.1 L216.8 1253.5 L219.2 1253.9 L221.7 1254.4 L224.1 1254.8 L226.5 1255.3 L229.0 1255.8 L231.4 1256.2 L233.8 1256.7 L236.2 1257.1 L238.7 1257.6 L241.1 1258.0 L243.5 1258.4 L246.0 1258.8 L248.4 1259.2 L250.8 1259.6 L253.3 1260.0 L255.7 1260.4 L258.1 1260.7 L260.6 1261.1 L263.0 1261.4 L265.4 1261.7 L267.9 1262.0 L270.3 1262.3 L272.7 1262.5 L275.1 1262.7 L277.6 1262.9 L280.0 1263.0 L282.4 1263.1 L284.9 1263.2 L287.3 1263.3 L289.7 1263.4 L292.2 1263.4 L294.6 1263.4 L297.0 1263.4 L299.5 1263.3 L301.9 1263.3 L304.3 1263.2 L306.8 1263.0 L309.2 1262.9 L311.6 1262.8 L314.0 1262.6 L316.5 1262.4 L318.9 1262.2 L321.3 1262.0 L323.8 1261.7 L326.2 1261.5 L328.6 1261.2 L331.1 1260.9 L333.5 1260.6 L335.9 1260.2 L338.4 1259.9 L340.8 1259.5 L343.2 1259.1 L345.7 1258.6 L348.1 1258.2 L350.5 1257.7 L352.9 1257.2 L355.4 1256.6 L357.8 1256.1 L360.2 1255.4 L362.7 1254.8 L365.1 1254.1 L367.5 1253.3 L370.0 1252.5 L372.4 1251.7 L374.8 1250.8 L377.3 1249.9 L379.7 1249.0 L382.1 1248.0 L384.6 1247.0 L387.0 1246.0 L389.4 1244.8 L391.9 1243.7 L394.3 1242.4 L396.7 1241.1 L399.1 1239.7 L401.6 1238.3 L404.0 1236.8 L406.4 1235.2 L408.9 1233.5 L411.3 1231.7 L413.7 1230.0 L416.2 1228.1 L418.6 1226.3 L421.0 1224.4 L423.5 1222.6 L425.9 1220.8 L428.3 1219.0 L430.8 1217.2 L433.2 1215.5 L435.6 1213.9 L438.0 1212.3 L440.5 1210.8 L442.9 1209.4 L445.3 1208.0 L447.8 1206.7 L450.2 1205.6 L452.6 1204.6 L455.1 1203.7 L457.5 1203.0 L459.9 1202.5 L462.4 1202.1 L464.8 1201.8 L467.2 1201.7 L469.6 1201.8 L472.1 1202.0 L474.5 1202.2 L476.9 1202.7 L479.4 1203.2 L481.8 1203.8 L484.2 1204.5 L486.7 1205.4 L489.1 1206.3 L491.5 1207.2 L494.0 1208.2 L496.4 1209.2 L498.8 1210.2 L501.3 1211.3 L503.7 1212.3 L506.1 1213.3 L508.6 1214.4 L511.0 1215.4 L513.4 1216.5 L515.8 1217.5 L518.3 1218.5 L520.7 1219.5 L523.1 1220.5 L525.6 1221.5 L528.0 1222.5 L530.4 1223.4 L532.9 1224.2 L535.3 1225.1 L537.7 1225.9 L540.2 1226.7 L542.6 1227.5 L545.0 1228.2 L547.5 1229.0 L549.9 1229.7 L552.3 1230.4 L554.7 1231.0 L557.2 1231.6 L559.6 1232.2 L562.0 1232.7 L564.5 1233.2 L566.9 1233.6 L569.3 1233.9 L571.8 1234.2 L574.2 1234.5 L576.6 1234.7 L579.1 1234.9 L581.5 1235.2 L583.9 1235.4 L586.3 1235.6 L588.8 1235.8 L591.2 1236.1 L593.6 1236.3 L596.1 1236.5 L598.5 1236.8 L600.9 1237.0 L603.4 1237.2 L605.8 1237.5 L608.2 1237.7 L610.7 1238.0 L613.1 1238.2 L615.5 1238.5 L618.0 1238.7 L620.4 1239.0 L622.8 1239.2 L625.2 1239.5 L627.7 1239.8 L630.1 1240.1 L632.5 1240.4 L635.0 1240.7 L637.4 1241.0 L639.8 1241.4 L642.3 1241.7 L644.7 1242.1 L647.1 1242.4 L649.6 1242.8 L652.0 1243.1 L654.4 1243.5 L656.9 1243.9 L659.3 1244.3 L661.7 1244.6 L664.1 1245.0 L666.6 1245.4 L669.0 1245.8 L671.4 1246.2 L673.9 1246.6 L676.3 1247.0 L678.7 1247.4 L681.2 1247.9 L683.6 1248.3 L686.0 1248.7 L688.5 1249.2 L690.9 1249.6 L693.3 1250.1 L695.8 1250.5 L698.2 1251.0 L700.6 1251.5 L703.0 1251.9 L705.5 1252.4 L707.9 1252.9 L710.3 1253.4 L712.8 1253.9 L715.2 1254.3 L717.6 1254.8 L720.1 1255.3 L722.5 1255.8 L724.9 1256.3 L727.4 1256.8 L729.8 1257.2 L732.2 1257.7 L734.7 1258.2 L737.1 1258.7 L739.5 1259.2 L741.9 1259.7 L744.4 1260.2 L746.8 1260.7 L749.2 1261.2 L751.7 1261.8 L754.1 1262.3 L756.5 1262.8 L759.0 1263.4 L761.4 1263.9 L763.8 1264.5 L766.3 1265.1 L768.7 1265.7 L771.1 1266.3" fill="none" stroke="#9fb5ca" stroke-width="2.2" stroke-linejoin="round" stroke-linecap="butt"/>
<path d="M148.7 1264.0 L151.2 1262.9 L153.6 1261.8 L156.0 1260.7 L158.4 1259.6 L160.9 1258.6 L163.3 1257.6 L165.7 1256.7 L168.2 1255.8 L170.6 1255.0 L173.0 1254.2 L175.5 1253.4 L177.9 1252.8 L180.3 1252.1 L182.8 1251.6 L185.2 1251.1 L187.6 1250.7 L190.1 1250.4 L192.5 1250.2 L194.9 1250.1 L197.3 1250.0 L199.8 1250.0 L202.2 1250.1 L204.6 1250.3 L207.1 1250.5 L209.5 1250.8 L211.9 1251.1 L214.4 1251.5 L216.8 1251.9 L219.2 1252.4 L221.7 1252.8 L224.1 1253.4 L226.5 1253.9 L229.0 1254.4 L231.4 1254.9 L233.8 1255.4 L236.2 1255.9 L238.7 1256.4 L241.1 1256.9 L243.5 1257.3 L246.0 1257.8 L248.4 1258.2 L250.8 1258.6 L253.3 1258.9 L255.7 1259.3 L258.1 1259.7 L260.6 1260.0 L263.0 1260.3 L265.4 1260.6 L267.9 1260.8 L270.3 1261.1 L272.7 1261.2 L275.1 1261.4 L277.6 1261.5 L280.0 1261.6 L282.4 1261.7 L284.9 1261.8 L287.3 1261.8 L289.7 1261.8 L292.2 1261.8 L294.6 1261.7 L297.0 1261.6 L299.5 1261.5 L301.9 1261.3 L304.3 1261.2 L306.8 1261.0 L309.2 1260.8 L311.6 1260.5 L314.0 1260.2 L316.5 1259.9 L318.9 1259.6 L321.3 1259.3 L323.8 1258.9 L326.2 1258.6 L328.6 1258.2 L331.1 1257.7 L333.5 1257.3 L335.9 1256.8 L338.4 1256.3 L340.8 1255.7 L343.2 1255.1 L345.7 1254.4 L348.1 1253.7 L350.5 1252.9 L352.9 1252.1 L355.4 1251.2 L357.8 1250.3 L360.2 1249.3 L362.7 1248.3 L365.1 1247.2 L367.5 1246.1 L370.0 1245.0 L372.4 1243.8 L374.8 1242.6 L377.3 1241.4 L379.7 1240.2 L382.1 1238.9 L384.6 1237.6 L387.0 1236.3 L389.4 1235.0 L391.9 1233.6 L394.3 1232.3 L396.7 1230.9 L399.1 1229.6 L401.6 1228.3 L404.0 1227.1 L406.4 1225.9 L408.9 1224.8 L411.3 1223.7 L413.7 1222.8 L416.2 1221.9 L418.6 1221.1 L421.0 1220.4 L423.5 1219.8 L425.9 1219.3 L428.3 1218.9 L430.8 1218.6 L433.2 1218.4 L435.6 1218.4 L438.0 1218.4 L440.5 1218.6 L442.9 1218.8 L445.3 1219.1 L447.8 1219.5 L450.2 1220.0 L452.6 1220.6 L455.1 1221.2 L457.5 1221.8 L459.9 1222.6 L462.4 1223.3 L464.8 1224.2 L467.2 1225.1 L469.6 1226.0 L472.1 1227.1 L474.5 1228.1 L476.9 1229.2 L479.4 1230.3 L481.8 1231.3 L484.2 1232.3 L486.7 1233.3 L489.1 1234.2 L491.5 1235.0 L494.0 1235.8 L496.4 1236.5 L498.8 1237.3 L501.3 1237.9 L503.7 1238.6 L506.1 1239.2 L508.6 1239.8 L511.0 1240.3 L513.4 1240.9 L515.8 1241.4 L518.3 1241.9 L520.7 1242.3 L523.1 1242.8 L525.6 1243.2 L528.0 1243.6 L530.4 1243.9 L532.9 1244.2 L535.3 1244.5 L537.7 1244.8 L540.2 1245.0 L542.6 1245.3 L545.0 1245.5 L547.5 1245.6 L549.9 1245.8 L552.3 1246.0 L554.7 1246.1 L557.2 1246.2 L559.6 1246.3 L562.0 1246.4 L564.5 1246.5 L566.9 1246.6 L569.3 1246.7 L571.8 1246.8 L574.2 1246.9 L576.6 1246.9 L579.1 1247.0 L581.5 1247.1 L583.9 1247.1 L586.3 1247.2 L588.8 1247.2 L591.2 1247.2 L593.6 1247.3 L596.1 1247.3 L598.5 1247.3 L600.9 1247.3 L603.4 1247.3 L605.8 1247.2 L608.2 1247.2 L610.7 1247.2 L613.1 1247.2 L615.5 1247.2 L618.0 1247.2 L620.4 1247.2 L622.8 1247.2 L625.2 1247.2 L627.7 1247.3 L630.1 1247.4 L632.5 1247.4 L635.0 1247.5 L637.4 1247.6 L639.8 1247.8 L642.3 1247.9 L644.7 1248.0 L647.1 1248.2 L649.6 1248.3 L652.0 1248.5 L654.4 1248.6 L656.9 1248.8 L659.3 1248.9 L661.7 1249.1 L664.1 1249.2 L666.6 1249.4 L669.0 1249.5 L671.4 1249.6 L673.9 1249.8 L676.3 1249.9 L678.7 1250.0 L681.2 1250.1 L683.6 1250.2 L686.0 1250.3 L688.5 1250.5 L690.9 1250.6 L693.3 1250.7 L695.8 1250.8 L698.2 1250.9 L700.6 1251.0 L703.0 1251.1 L705.5 1251.1 L707.9 1251.2 L710.3 1251.3 L712.8 1251.4 L715.2 1251.5 L717.6 1251.6 L720.1 1251.7 L722.5 1251.7 L724.9 1251.8 L727.4 1251.9 L729.8 1252.0 L732.2 1252.0 L734.7 1252.1 L737.1 1252.2 L739.5 1252.2 L741.9 1252.3 L744.4 1252.3 L746.8 1252.4 L749.2 1252.5 L751.7 1252.5 L754.1 1252.6 L756.5 1252.6 L759.0 1252.7 L761.4 1252.7 L763.8 1252.7 L766.3 1252.8 L768.7 1252.8 L771.1 1252.9" fill="none" stroke="#abb7c4" stroke-width="2.2" stroke-linejoin="round" stroke-linecap="butt"/>
<path d="M148.7 1268.5 L151.2 1268.6 L153.6 1268.6 L156.0 1268.7 L158.4 1268.7 L160.9 1268.8 L163.3 1268.8 L165.7 1268.8 L168.2 1268.9 L170.6 1268.9 L173.0 1268.9 L175.5 1269.0 L177.9 1269.0 L180.3 1269.0 L182.8 1269.0 L185.2 1269.0 L187.6 1269.0 L190.1 1269.0 L192.5 1269.0 L194.9 1269.0 L197.3 1269.0 L199.8 1269.0 L202.2 1269.0 L204.6 1269.0 L207.1 1269.0 L209.5 1269.0 L211.9 1268.9 L214.4 1268.9 L216.8 1268.9 L219.2 1268.8 L221.7 1268.8 L224.1 1268.7 L226.5 1268.7 L229.0 1268.6 L231.4 1268.6 L233.8 1268.5 L236.2 1268.5 L238.7 1268.4 L241.1 1268.3 L243.5 1268.2 L246.0 1268.2 L248.4 1268.1 L250.8 1267.9 L253.3 1267.8 L255.7 1267.7 L258.1 1267.5 L260.6 1267.4 L263.0 1267.2 L265.4 1267.0 L267.9 1266.8 L270.3 1266.6 L272.7 1266.4 L275.1 1266.2 L277.6 1265.9 L280.0 1265.6 L282.4 1265.3 L284.9 1265.0 L287.3 1264.6 L289.7 1264.3 L292.2 1263.9 L294.6 1263.5 L297.0 1263.1 L299.5 1262.7 L301.9 1262.2 L304.3 1261.8 L306.8 1261.4 L309.2 1260.9 L311.6 1260.4 L314.0 1259.9 L316.5 1259.3 L318.9 1258.7 L321.3 1258.0 L323.8 1257.3 L326.2 1256.4 L328.6 1255.5 L331.1 1254.4 L333.5 1253.4 L335.9 1252.2 L338.4 1251.0 L340.8 1249.8 L343.2 1248.6 L345.7 1247.4 L348.1 1246.2 L350.5 1245.0 L352.9 1243.8 L355.4 1242.6 L357.8 1241.5 L360.2 1240.4 L362.7 1239.4 L365.1 1238.4 L367.5 1237.4 L370.0 1236.5 L372.4 1235.6 L374.8 1234.9 L377.3 1234.2 L379.7 1233.5 L382.1 1232.9 L384.6 1232.3 L387.0 1231.8 L389.4 1231.2 L391.9 1230.7 L394.3 1230.3 L396.7 1229.8 L399.1 1229.4 L401.6 1229.1 L404.0 1228.8 L406.4 1228.6 L408.9 1228.4 L411.3 1228.3 L413.7 1228.3 L416.2 1228.3 L418.6 1228.3 L421.0 1228.4 L423.5 1228.5 L425.9 1228.7 L428.3 1228.8 L430.8 1228.9 L433.2 1229.1 L435.6 1229.2 L438.0 1229.4 L440.5 1229.5 L442.9 1229.7 L445.3 1229.9 L447.8 1230.0 L450.2 1230.2 L452.6 1230.4 L455.1 1230.6 L457.5 1230.9 L459.9 1231.1 L462.4 1231.4 L464.8 1231.6 L467.2 1231.9 L469.6 1232.2 L472.1 1232.4 L474.5 1232.7 L476.9 1232.9 L479.4 1233.1 L481.8 1233.2 L484.2 1233.3 L486.7 1233.3 L489.1 1233.3 L491.5 1233.3 L494.0 1233.2 L496.4 1233.1 L498.8 1232.9 L501.3 1232.7 L503.7 1232.4 L506.1 1232.1 L508.6 1231.7 L511.0 1231.3 L513.4 1230.9 L515.8 1230.4 L518.3 1230.0 L520.7 1229.5 L523.1 1228.9 L525.6 1228.4 L528.0 1227.9 L530.4 1227.3 L532.9 1226.7 L535.3 1226.1 L537.7 1225.5 L540.2 1224.9 L542.6 1224.2 L545.0 1223.6 L547.5 1223.0 L549.9 1222.4 L552.3 1221.9 L554.7 1221.4 L557.2 1220.9 L559.6 1220.5 L562.0 1220.1 L564.5 1219.8 L566.9 1219.5 L569.3 1219.3 L571.8 1219.1 L574.2 1218.9 L576.6 1218.8 L579.1 1218.7 L581.5 1218.6 L583.9 1218.5 L586.3 1218.5 L588.8 1218.6 L591.2 1218.6 L593.6 1218.8 L596.1 1219.0 L598.5 1219.2 L600.9 1219.6 L603.4 1220.0 L605.8 1220.5 L608.2 1221.0 L610.7 1221.6 L613.1 1222.2 L615.5 1222.9 L618.0 1223.6 L620.4 1224.2 L622.8 1224.9 L625.2 1225.6 L627.7 1226.2 L630.1 1226.9 L632.5 1227.5 L635.0 1228.2 L637.4 1228.8 L639.8 1229.4 L642.3 1230.0 L644.7 1230.6 L647.1 1231.3 L649.6 1231.9 L652.0 1232.5 L654.4 1233.1 L656.9 1233.7 L659.3 1234.3 L661.7 1234.8 L664.1 1235.4 L666.6 1236.0 L669.0 1236.5 L671.4 1237.1 L673.9 1237.6 L676.3 1238.1 L678.7 1238.7 L681.2 1239.1 L683.6 1239.6 L686.0 1240.1 L688.5 1240.5 L690.9 1240.9 L693.3 1241.3 L695.8 1241.7 L698.2 1242.1 L700.6 1242.4 L703.0 1242.7 L705.5 1243.0 L707.9 1243.3 L710.3 1243.5 L712.8 1243.7 L715.2 1243.9 L717.6 1244.1 L720.1 1244.2 L722.5 1244.4 L724.9 1244.7 L727.4 1244.9 L729.8 1245.2 L732.2 1245.6 L734.7 1246.0 L737.1 1246.5 L739.5 1247.1 L741.9 1247.7 L744.4 1248.3 L746.8 1248.9 L749.2 1249.6 L751.7 1250.4 L754.1 1251.2 L756.5 1252.0 L759.0 1252.8 L761.4 1253.6 L763.8 1254.5 L766.3 1255.5 L768.7 1256.4 L771.1 1257.3" fill="none" stroke="#b6b9bf" stroke-width="2.2" stroke-linejoin="round" stroke-linecap="butt"/>
<path d="M148.7 1271.3 L151.2 1271.3 L153.6 1271.4 L156.0 1271.4 L158.4 1271.5 L160.9 1271.5 L163.3 1271.6 L165.7 1271.6 L168.2 1271.7 L170.6 1271.7 L173.0 1271.7 L175.5 1271.7 L177.9 1271.8 L180.3 1271.8 L182.8 1271.8 L185.2 1271.8 L187.6 1271.8 L190.1 1271.8 L192.5 1271.8 L194.9 1271.8 L197.3 1271.8 L199.8 1271.8 L202.2 1271.8 L204.6 1271.8 L207.1 1271.8 L209.5 1271.7 L211.9 1271.7 L214.4 1271.7 L216.8 1271.6 L219.2 1271.6 L221.7 1271.6 L224.1 1271.5 L226.5 1271.5 L229.0 1271.4 L231.4 1271.4 L233.8 1271.3 L236.2 1271.3 L238.7 1271.2 L241.1 1271.1 L243.5 1271.0 L246.0 1270.9 L248.4 1270.8 L250.8 1270.7 L253.3 1270.6 L255.7 1270.5 L258.1 1270.3 L260.6 1270.2 L263.0 1270.0 L265.4 1269.8 L267.9 1269.6 L270.3 1269.4 L272.7 1269.2 L275.1 1269.0 L277.6 1268.7 L280.0 1268.4 L282.4 1268.1 L284.9 1267.8 L287.3 1267.4 L289.7 1267.1 L292.2 1266.7 L294.6 1266.3 L297.0 1265.9 L299.5 1265.4 L301.9 1265.0 L304.3 1264.6 L306.8 1264.1 L309.2 1263.7 L311.6 1263.2 L314.0 1262.8 L316.5 1262.3 L318.9 1261.8 L321.3 1261.2 L323.8 1260.7 L326.2 1260.1 L328.6 1259.5 L331.1 1258.9 L333.5 1258.2 L335.9 1257.5 L338.4 1256.7 L340.8 1255.9 L343.2 1255.0 L345.7 1254.1 L348.1 1253.2 L350.5 1252.2 L352.9 1251.2 L355.4 1250.2 L357.8 1249.2 L360.2 1248.1 L362.7 1247.0 L365.1 1245.9 L367.5 1244.8 L370.0 1243.7 L372.4 1242.6 L374.8 1241.5 L377.3 1240.4 L379.7 1239.3 L382.1 1238.2 L384.6 1237.1 L387.0 1236.1 L389.4 1234.9 L391.9 1233.8 L394.3 1232.6 L396.7 1231.3 L399.1 1230.0 L401.6 1228.7 L404.0 1227.3 L406.4 1225.9 L408.9 1224.6 L411.3 1223.2 L413.7 1221.9 L416.2 1220.6 L418.6 1219.3 L421.0 1218.1 L423.5 1216.8 L425.9 1215.6 L428.3 1214.4 L430.8 1213.2 L433.2 1212.1 L435.6 1210.9 L438.0 1209.8 L440.5 1208.6 L442.9 1207.5 L445.3 1206.5 L447.8 1205.4 L450.2 1204.4 L452.6 1203.3 L455.1 1202.4 L457.5 1201.4 L459.9 1200.5 L462.4 1199.6 L464.8 1198.8 L467.2 1198.0 L469.6 1197.3 L472.1 1196.7 L474.5 1196.1 L476.9 1195.7 L479.4 1195.3 L481.8 1195.0 L484.2 1194.8 L486.7 1194.6 L489.1 1194.6 L491.5 1194.7 L494.0 1194.8 L496.4 1195.0 L498.8 1195.4 L501.3 1195.8 L503.7 1196.4 L506.1 1197.0 L508.6 1197.7 L511.0 1198.4 L513.4 1199.2 L515.8 1200.1 L518.3 1200.9 L520.7 1201.7 L523.1 1202.6 L525.6 1203.4 L528.0 1204.2 L530.4 1205.0 L532.9 1205.7 L535.3 1206.5 L537.7 1207.2 L540.2 1208.0 L542.6 1208.7 L545.0 1209.3 L547.5 1210.0 L549.9 1210.5 L552.3 1211.1 L554.7 1211.6 L557.2 1212.1 L559.6 1212.5 L562.0 1212.9 L564.5 1213.3 L566.9 1213.7 L569.3 1214.0 L571.8 1214.4 L574.2 1214.7 L576.6 1215.1 L579.1 1215.4 L581.5 1215.7 L583.9 1216.0 L586.3 1216.4 L588.8 1216.7 L591.2 1217.0 L593.6 1217.3 L596.1 1217.6 L598.5 1218.0 L600.9 1218.4 L603.4 1218.8 L605.8 1219.2 L608.2 1219.7 L610.7 1220.3 L613.1 1220.9 L615.5 1221.5 L618.0 1222.2 L620.4 1222.8 L622.8 1223.5 L625.2 1224.2 L627.7 1224.8 L630.1 1225.4 L632.5 1226.0 L635.0 1226.6 L637.4 1227.1 L639.8 1227.6 L642.3 1228.1 L644.7 1228.6 L647.1 1229.1 L649.6 1229.5 L652.0 1229.9 L654.4 1230.3 L656.9 1230.7 L659.3 1231.0 L661.7 1231.3 L664.1 1231.6 L666.6 1231.9 L669.0 1232.1 L671.4 1232.4 L673.9 1232.6 L676.3 1232.8 L678.7 1232.9 L681.2 1233.1 L683.6 1233.3 L686.0 1233.4 L688.5 1233.6 L690.9 1233.7 L693.3 1233.8 L695.8 1234.0 L698.2 1234.1 L700.6 1234.2 L703.0 1234.4 L705.5 1234.5 L707.9 1234.6 L710.3 1234.7 L712.8 1234.8 L715.2 1234.9 L717.6 1235.0 L720.1 1235.1 L722.5 1235.2 L724.9 1235.3 L727.4 1235.4 L729.8 1235.5 L732.2 1235.6 L734.7 1235.7 L737.1 1235.8 L739.5 1235.9 L741.9 1235.9 L744.4 1236.0 L746.8 1236.0 L749.2 1236.0 L751.7 1236.1 L754.1 1236.1 L756.5 1236.0 L759.0 1236.0 L761.4 1236.0 L763.8 1235.9 L766.3 1235.8 L768.7 1235.7 L771.1 1235.6" fill="none" stroke="#bfb4b7" stroke-width="2.2" stroke-linejoin="round" stroke-linecap="butt"/>
<path d="M148.7 1267.4 L151.2 1267.5 L153.6 1267.6 L156.0 1267.8 L158.4 1267.9 L160.9 1268.0 L163.3 1268.1 L165.7 1268.2 L168.2 1268.3 L170.6 1268.4 L173.0 1268.5 L175.5 1268.6 L177.9 1268.7 L180.3 1268.8 L182.8 1268.9 L185.2 1269.0 L187.6 1269.0 L190.1 1269.1 L192.5 1269.2 L194.9 1269.2 L197.3 1269.3 L199.8 1269.4 L202.2 1269.4 L204.6 1269.4 L207.1 1269.5 L209.5 1269.5 L211.9 1269.5 L214.4 1269.6 L216.8 1269.6 L219.2 1269.6 L221.7 1269.6 L224.1 1269.6 L226.5 1269.6 L229.0 1269.5 L231.4 1269.5 L233.8 1269.5 L236.2 1269.4 L238.7 1269.3 L241.1 1269.2 L243.5 1269.1 L246.0 1269.0 L248.4 1268.9 L250.8 1268.8 L253.3 1268.7 L255.7 1268.5 L258.1 1268.4 L260.6 1268.2 L263.0 1268.1 L265.4 1267.9 L267.9 1267.7 L270.3 1267.5 L272.7 1267.3 L275.1 1267.1 L277.6 1266.8 L280.0 1266.5 L282.4 1266.3 L284.9 1265.9 L287.3 1265.6 L289.7 1265.2 L292.2 1264.8 L294.6 1264.4 L297.0 1263.9 L299.5 1263.4 L301.9 1262.8 L304.3 1262.1 L306.8 1261.4 L309.2 1260.6 L311.6 1259.7 L314.0 1258.7 L316.5 1257.7 L318.9 1256.6 L321.3 1255.4 L323.8 1254.2 L326.2 1253.0 L328.6 1251.6 L331.1 1250.3 L333.5 1248.9 L335.9 1247.6 L338.4 1246.1 L340.8 1244.7 L343.2 1243.3 L345.7 1241.8 L348.1 1240.4 L350.5 1238.9 L352.9 1237.4 L355.4 1235.9 L357.8 1234.4 L360.2 1232.9 L362.7 1231.5 L365.1 1230.1 L367.5 1228.8 L370.0 1227.6 L372.4 1226.6 L374.8 1225.7 L377.3 1225.0 L379.7 1224.4 L382.1 1223.8 L384.6 1223.4 L387.0 1222.9 L389.4 1222.5 L391.9 1222.1 L394.3 1221.7 L396.7 1221.4 L399.1 1221.0 L401.6 1220.6 L404.0 1220.2 L406.4 1219.8 L408.9 1219.4 L411.3 1219.0 L413.7 1218.6 L416.2 1218.2 L418.6 1217.8 L421.0 1217.4 L423.5 1217.0 L425.9 1216.6 L428.3 1216.1 L430.8 1215.6 L433.2 1215.0 L435.6 1214.4 L438.0 1213.8 L440.5 1213.0 L442.9 1212.3 L445.3 1211.5 L447.8 1210.7 L450.2 1209.9 L452.6 1209.1 L455.1 1208.4 L457.5 1207.7 L459.9 1207.0 L462.4 1206.4 L464.8 1205.8 L467.2 1205.2 L469.6 1204.8 L472.1 1204.4 L474.5 1204.1 L476.9 1203.9 L479.4 1203.8 L481.8 1203.9 L484.2 1204.0 L486.7 1204.3 L489.1 1204.6 L491.5 1205.0 L494.0 1205.4 L496.4 1205.9 L498.8 1206.5 L501.3 1207.0 L503.7 1207.6 L506.1 1208.1 L508.6 1208.7 L511.0 1209.2 L513.4 1209.7 L515.8 1210.3 L518.3 1210.8 L520.7 1211.3 L523.1 1211.8 L525.6 1212.3 L528.0 1212.8 L530.4 1213.2 L532.9 1213.7 L535.3 1214.0 L537.7 1214.4 L540.2 1214.7 L542.6 1215.0 L545.0 1215.2 L547.5 1215.4 L549.9 1215.6 L552.3 1215.7 L554.7 1215.8 L557.2 1215.9 L559.6 1215.9 L562.0 1215.8 L564.5 1215.8 L566.9 1215.7 L569.3 1215.6 L571.8 1215.5 L574.2 1215.4 L576.6 1215.4 L579.1 1215.4 L581.5 1215.4 L583.9 1215.5 L586.3 1215.6 L588.8 1215.8 L591.2 1216.0 L593.6 1216.2 L596.1 1216.5 L598.5 1216.8 L600.9 1217.2 L603.4 1217.7 L605.8 1218.1 L608.2 1218.7 L610.7 1219.3 L613.1 1219.9 L615.5 1220.5 L618.0 1221.2 L620.4 1221.8 L622.8 1222.5 L625.2 1223.1 L627.7 1223.7 L630.1 1224.3 L632.5 1224.8 L635.0 1225.3 L637.4 1225.8 L639.8 1226.3 L642.3 1226.7 L644.7 1227.2 L647.1 1227.6 L649.6 1227.9 L652.0 1228.3 L654.4 1228.6 L656.9 1228.9 L659.3 1229.2 L661.7 1229.4 L664.1 1229.7 L666.6 1229.9 L669.0 1230.1 L671.4 1230.3 L673.9 1230.6 L676.3 1230.8 L678.7 1231.1 L681.2 1231.4 L683.6 1231.7 L686.0 1232.0 L688.5 1232.4 L690.9 1232.7 L693.3 1233.1 L695.8 1233.5 L698.2 1233.9 L700.6 1234.3 L703.0 1234.7 L705.5 1235.1 L707.9 1235.6 L710.3 1236.0 L712.8 1236.5 L715.2 1236.9 L717.6 1237.4 L720.1 1237.9 L722.5 1238.4 L724.9 1238.9 L727.4 1239.5 L729.8 1240.0 L732.2 1240.6 L734.7 1241.2 L737.1 1241.8 L739.5 1242.4 L741.9 1243.0 L744.4 1243.6 L746.8 1244.2 L749.2 1244.8 L751.7 1245.4 L754.1 1246.0 L756.5 1246.5 L759.0 1247.1 L761.4 1247.6 L763.8 1248.1 L766.3 1248.6 L768.7 1249.1 L771.1 1249.5" fill="none" stroke="#c6a9ad" stroke-width="2.2" stroke-linejoin="round" stroke-linecap="butt"/>
<path d="M148.7 1269.1 L151.2 1269.1 L153.6 1269.2 L156.0 1269.3 L158.4 1269.4 L160.9 1269.5 L163.3 1269.6 L165.7 1269.7 L168.2 1269.7 L170.6 1269.8 L173.0 1269.9 L175.5 1269.9 L177.9 1270.0 L180.3 1270.0 L182.8 1270.1 L185.2 1270.1 L187.6 1270.2 L190.1 1270.2 L192.5 1270.2 L194.9 1270.2 L197.3 1270.3 L199.8 1270.3 L202.2 1270.3 L204.6 1270.3 L207.1 1270.3 L209.5 1270.3 L211.9 1270.3 L214.4 1270.3 L216.8 1270.2 L219.2 1270.2 L221.7 1270.2 L224.1 1270.2 L226.5 1270.1 L229.0 1270.1 L231.4 1270.0 L233.8 1270.0 L236.2 1269.9 L238.7 1269.8 L241.1 1269.7 L243.5 1269.6 L246.0 1269.5 L248.4 1269.4 L250.8 1269.3 L253.3 1269.1 L255.7 1269.0 L258.1 1268.8 L260.6 1268.6 L263.0 1268.4 L265.4 1268.2 L267.9 1268.0 L270.3 1267.7 L272.7 1267.4 L275.1 1267.1 L277.6 1266.8 L280.0 1266.5 L282.4 1266.2 L284.9 1265.8 L287.3 1265.5 L289.7 1265.1 L292.2 1264.7 L294.6 1264.3 L297.0 1263.8 L299.5 1263.3 L301.9 1262.8 L304.3 1262.2 L306.8 1261.5 L309.2 1260.7 L311.6 1259.8 L314.0 1258.8 L316.5 1257.8 L318.9 1256.6 L321.3 1255.5 L323.8 1254.3 L326.2 1253.1 L328.6 1251.9 L331.1 1250.7 L333.5 1249.4 L335.9 1248.2 L338.4 1246.9 L340.8 1245.5 L343.2 1244.0 L345.7 1242.5 L348.1 1240.7 L350.5 1238.8 L352.9 1236.8 L355.4 1234.5 L357.8 1232.1 L360.2 1229.5 L362.7 1226.8 L365.1 1223.8 L367.5 1220.8 L370.0 1217.5 L372.4 1214.2 L374.8 1210.7 L377.3 1207.0 L379.7 1203.2 L382.1 1199.4 L384.6 1195.5 L387.0 1191.7 L389.4 1187.9 L391.9 1184.1 L394.3 1180.5 L396.7 1176.8 L399.1 1173.2 L401.6 1169.6 L404.0 1165.9 L406.4 1162.1 L408.9 1158.3 L411.3 1154.6 L413.7 1150.9 L416.2 1147.2 L418.6 1143.7 L421.0 1140.3 L423.5 1137.0 L425.9 1133.9 L428.3 1130.9 L430.8 1127.9 L433.2 1125.2 L435.6 1122.5 L438.0 1119.9 L440.5 1117.6 L442.9 1115.3 L445.3 1113.3 L447.8 1111.4 L450.2 1109.6 L452.6 1108.1 L455.1 1106.7 L457.5 1105.4 L459.9 1104.4 L462.4 1103.4 L464.8 1102.6 L467.2 1101.9 L469.6 1101.4 L472.1 1101.0 L474.5 1100.8 L476.9 1100.7 L479.4 1100.8 L481.8 1101.0 L484.2 1101.4 L486.7 1101.9 L489.1 1102.6 L491.5 1103.4 L494.0 1104.3 L496.4 1105.3 L498.8 1106.3 L501.3 1107.4 L503.7 1108.5 L506.1 1109.6 L508.6 1110.8 L511.0 1112.0 L513.4 1113.2 L515.8 1114.5 L518.3 1115.8 L520.7 1117.1 L523.1 1118.5 L525.6 1119.9 L528.0 1121.4 L530.4 1122.9 L532.9 1124.4 L535.3 1126.0 L537.7 1127.5 L540.2 1129.1 L542.6 1130.7 L545.0 1132.2 L547.5 1133.8 L549.9 1135.3 L552.3 1136.8 L554.7 1138.4 L557.2 1139.9 L559.6 1141.3 L562.0 1142.8 L564.5 1144.2 L566.9 1145.6 L569.3 1147.0 L571.8 1148.4 L574.2 1149.8 L576.6 1151.2 L579.1 1152.6 L581.5 1154.1 L583.9 1155.6 L586.3 1157.2 L588.8 1158.7 L591.2 1160.4 L593.6 1162.0 L596.1 1163.7 L598.5 1165.4 L600.9 1167.0 L603.4 1168.8 L605.8 1170.5 L608.2 1172.2 L610.7 1174.0 L613.1 1175.7 L615.5 1177.5 L618.0 1179.3 L620.4 1181.1 L622.8 1182.8 L625.2 1184.5 L627.7 1186.2 L630.1 1187.8 L632.5 1189.3 L635.0 1190.7 L637.4 1192.0 L639.8 1193.2 L642.3 1194.3 L644.7 1195.3 L647.1 1196.3 L649.6 1197.1 L652.0 1197.9 L654.4 1198.6 L656.9 1199.2 L659.3 1199.8 L661.7 1200.2 L664.1 1200.6 L666.6 1201.0 L669.0 1201.2 L671.4 1201.4 L673.9 1201.6 L676.3 1201.8 L678.7 1201.8 L681.2 1201.9 L683.6 1201.9 L686.0 1201.9 L688.5 1201.9 L690.9 1201.8 L693.3 1201.8 L695.8 1201.7 L698.2 1201.6 L700.6 1201.6 L703.0 1201.6 L705.5 1201.7 L707.9 1201.8 L710.3 1202.1 L712.8 1202.5 L715.2 1203.0 L717.6 1203.5 L720.1 1204.2 L722.5 1204.9 L724.9 1205.7 L727.4 1206.5 L729.8 1207.5 L732.2 1208.5 L734.7 1209.5 L737.1 1210.6 L739.5 1211.8 L741.9 1213.0 L744.4 1214.2 L746.8 1215.4 L749.2 1216.6 L751.7 1217.8 L754.1 1219.0 L756.5 1220.1 L759.0 1221.2 L761.4 1222.2 L763.8 1223.2 L766.3 1224.2 L768.7 1225.1 L771.1 1226.1" fill="none" stroke="#cc9ea4" stroke-width="2.2" stroke-linejoin="round" stroke-linecap="butt"/>
<path d="M148.7 1271.3 L151.2 1271.4 L153.6 1271.5 L156.0 1271.6 L158.4 1271.7 L160.9 1271.8 L163.3 1271.9 L165.7 1271.9 L168.2 1272.0 L170.6 1272.1 L173.0 1272.1 L175.5 1272.2 L177.9 1272.2 L180.3 1272.3 L182.8 1272.3 L185.2 1272.3 L187.6 1272.4 L190.1 1272.4 L192.5 1272.4 L194.9 1272.4 L197.3 1272.4 L199.8 1272.4 L202.2 1272.4 L204.6 1272.4 L207.1 1272.3 L209.5 1272.3 L211.9 1272.3 L214.4 1272.2 L216.8 1272.1 L219.2 1272.1 L221.7 1272.0 L224.1 1271.9 L226.5 1271.8 L229.0 1271.6 L231.4 1271.5 L233.8 1271.3 L236.2 1271.1 L238.7 1270.9 L241.1 1270.6 L243.5 1270.4 L246.0 1270.1 L248.4 1269.8 L250.8 1269.4 L253.3 1269.1 L255.7 1268.6 L258.1 1268.2 L260.6 1267.7 L263.0 1267.2 L265.4 1266.6 L267.9 1266.0 L270.3 1265.4 L272.7 1264.7 L275.1 1264.0 L277.6 1263.2 L280.0 1262.4 L282.4 1261.6 L284.9 1260.7 L287.3 1259.8 L289.7 1258.9 L292.2 1258.0 L294.6 1257.0 L297.0 1256.0 L299.5 1255.0 L301.9 1253.9 L304.3 1252.9 L306.8 1251.7 L309.2 1250.6 L311.6 1249.4 L314.0 1248.1 L316.5 1246.8 L318.9 1245.4 L321.3 1244.0 L323.8 1242.4 L326.2 1240.8 L328.6 1239.1 L331.1 1237.3 L333.5 1235.4 L335.9 1233.4 L338.4 1231.3 L340.8 1229.1 L343.2 1226.8 L345.7 1224.4 L348.1 1221.9 L350.5 1219.3 L352.9 1216.6 L355.4 1213.8 L357.8 1210.9 L360.2 1207.9 L362.7 1204.9 L365.1 1201.7 L367.5 1198.5 L370.0 1195.2 L372.4 1191.8 L374.8 1188.3 L377.3 1184.8 L379.7 1181.1 L382.1 1177.3 L384.6 1173.3 L387.0 1169.2 L389.4 1164.9 L391.9 1160.5 L394.3 1155.9 L396.7 1151.2 L399.1 1146.4 L401.6 1141.7 L404.0 1137.1 L406.4 1132.6 L408.9 1128.3 L411.3 1124.2 L413.7 1120.2 L416.2 1116.4 L418.6 1112.7 L421.0 1109.2 L423.5 1105.8 L425.9 1102.6 L428.3 1099.5 L430.8 1096.5 L433.2 1093.7 L435.6 1090.9 L438.0 1088.3 L440.5 1085.9 L442.9 1083.6 L445.3 1081.4 L447.8 1079.4 L450.2 1077.6 L452.6 1075.9 L455.1 1074.3 L457.5 1072.9 L459.9 1071.7 L462.4 1070.5 L464.8 1069.5 L467.2 1068.5 L469.6 1067.7 L472.1 1066.9 L474.5 1066.3 L476.9 1065.7 L479.4 1065.2 L481.8 1064.8 L484.2 1064.5 L486.7 1064.3 L489.1 1064.3 L491.5 1064.4 L494.0 1064.7 L496.4 1065.1 L498.8 1065.6 L501.3 1066.3 L503.7 1067.2 L506.1 1068.1 L508.6 1069.2 L511.0 1070.4 L513.4 1071.8 L515.8 1073.3 L518.3 1074.9 L520.7 1076.6 L523.1 1078.5 L525.6 1080.4 L528.0 1082.3 L530.4 1084.4 L532.9 1086.4 L535.3 1088.6 L537.7 1090.7 L540.2 1092.9 L542.6 1095.2 L545.0 1097.5 L547.5 1099.8 L549.9 1102.2 L552.3 1104.5 L554.7 1106.9 L557.2 1109.1 L559.6 1111.4 L562.0 1113.6 L564.5 1115.8 L566.9 1118.0 L569.3 1120.1 L571.8 1122.1 L574.2 1124.1 L576.6 1125.9 L579.1 1127.7 L581.5 1129.4 L583.9 1131.0 L586.3 1132.4 L588.8 1133.7 L591.2 1135.0 L593.6 1136.2 L596.1 1137.4 L598.5 1138.6 L600.9 1139.7 L603.4 1140.8 L605.8 1142.0 L608.2 1143.1 L610.7 1144.2 L613.1 1145.3 L615.5 1146.4 L618.0 1147.5 L620.4 1148.6 L622.8 1149.7 L625.2 1150.8 L627.7 1151.9 L630.1 1153.0 L632.5 1154.1 L635.0 1155.2 L637.4 1156.4 L639.8 1157.5 L642.3 1158.6 L644.7 1159.8 L647.1 1161.0 L649.6 1162.2 L652.0 1163.4 L654.4 1164.6 L656.9 1166.0 L659.3 1167.3 L661.7 1168.8 L664.1 1170.4 L666.6 1172.0 L669.0 1173.7 L671.4 1175.4 L673.9 1177.1 L676.3 1178.8 L678.7 1180.5 L681.2 1182.1 L683.6 1183.7 L686.0 1185.2 L688.5 1186.6 L690.9 1188.1 L693.3 1189.5 L695.8 1190.9 L698.2 1192.3 L700.6 1193.7 L703.0 1195.1 L705.5 1196.5 L707.9 1197.8 L710.3 1199.1 L712.8 1200.5 L715.2 1201.8 L717.6 1203.1 L720.1 1204.4 L722.5 1205.7 L724.9 1207.0 L727.4 1208.3 L729.8 1209.6 L732.2 1210.8 L734.7 1212.1 L737.1 1213.3 L739.5 1214.5 L741.9 1215.6 L744.4 1216.7 L746.8 1217.7 L749.2 1218.7 L751.7 1219.6 L754.1 1220.4 L756.5 1221.1 L759.0 1221.7 L761.4 1222.3 L763.8 1222.7 L766.3 1223.1 L768.7 1223.5 L771.1 1223.9" fill="none" stroke="#d3939a" stroke-width="2.2" stroke-linejoin="round" stroke-linecap="butt"/>
<path d="M148.7 1270.2 L151.2 1270.3 L153.6 1270.4 L156.0 1270.4 L158.4 1270.5 L160.9 1270.6 L163.3 1270.7 L165.7 1270.8 L168.2 1270.8 L170.6 1270.9 L173.0 1270.9 L175.5 1271.0 L177.9 1271.1 L180.3 1271.1 L182.8 1271.2 L185.2 1271.2 L187.6 1271.3 L190.1 1271.3 L192.5 1271.3 L194.9 1271.4 L197.3 1271.4 L199.8 1271.4 L202.2 1271.4 L204.6 1271.4 L207.1 1271.4 L209.5 1271.4 L211.9 1271.4 L214.4 1271.4 L216.8 1271.4 L219.2 1271.4 L221.7 1271.3 L224.1 1271.3 L226.5 1271.2 L229.0 1271.1 L231.4 1271.0 L233.8 1270.8 L236.2 1270.6 L238.7 1270.4 L241.1 1270.1 L243.5 1269.8 L246.0 1269.5 L248.4 1269.1 L250.8 1268.7 L253.3 1268.2 L255.7 1267.6 L258.1 1267.1 L260.6 1266.4 L263.0 1265.7 L265.4 1264.9 L267.9 1264.1 L270.3 1263.2 L272.7 1262.3 L275.1 1261.3 L277.6 1260.4 L280.0 1259.3 L282.4 1258.3 L284.9 1257.2 L287.3 1256.1 L289.7 1255.0 L292.2 1253.9 L294.6 1252.8 L297.0 1251.6 L299.5 1250.4 L301.9 1249.2 L304.3 1247.9 L306.8 1246.7 L309.2 1245.3 L311.6 1244.0 L314.0 1242.6 L316.5 1241.2 L318.9 1239.7 L321.3 1238.1 L323.8 1236.5 L326.2 1234.7 L328.6 1232.8 L331.1 1230.8 L333.5 1228.7 L335.9 1226.4 L338.4 1224.0 L340.8 1221.4 L343.2 1218.7 L345.7 1215.9 L348.1 1213.0 L350.5 1210.1 L352.9 1207.1 L355.4 1204.1 L357.8 1201.1 L360.2 1198.2 L362.7 1195.3 L365.1 1192.4 L367.5 1189.6 L370.0 1186.8 L372.4 1184.1 L374.8 1181.3 L377.3 1178.5 L379.7 1175.5 L382.1 1172.3 L384.6 1168.8 L387.0 1165.1 L389.4 1161.0 L391.9 1156.6 L394.3 1151.9 L396.7 1147.1 L399.1 1142.3 L401.6 1137.5 L404.0 1132.8 L406.4 1128.3 L408.9 1124.0 L411.3 1119.9 L413.7 1116.0 L416.2 1112.2 L418.6 1108.7 L421.0 1105.3 L423.5 1102.0 L425.9 1098.9 L428.3 1095.9 L430.8 1093.0 L433.2 1090.2 L435.6 1087.5 L438.0 1084.9 L440.5 1082.5 L442.9 1080.2 L445.3 1078.0 L447.8 1076.1 L450.2 1074.3 L452.6 1072.7 L455.1 1071.3 L457.5 1070.0 L459.9 1068.9 L462.4 1067.9 L464.8 1067.0 L467.2 1066.2 L469.6 1065.6 L472.1 1065.2 L474.5 1064.9 L476.9 1064.7 L479.4 1064.8 L481.8 1065.0 L484.2 1065.4 L486.7 1066.0 L489.1 1066.7 L491.5 1067.6 L494.0 1068.6 L496.4 1069.7 L498.8 1070.9 L501.3 1072.2 L503.7 1073.6 L506.1 1075.1 L508.6 1076.6 L511.0 1078.3 L513.4 1080.0 L515.8 1081.8 L518.3 1083.6 L520.7 1085.5 L523.1 1087.3 L525.6 1089.2 L528.0 1091.0 L530.4 1092.8 L532.9 1094.5 L535.3 1096.2 L537.7 1097.9 L540.2 1099.5 L542.6 1101.1 L545.0 1102.6 L547.5 1104.1 L549.9 1105.5 L552.3 1106.8 L554.7 1108.1 L557.2 1109.2 L559.6 1110.3 L562.0 1111.3 L564.5 1112.2 L566.9 1113.1 L569.3 1114.1 L571.8 1115.0 L574.2 1115.9 L576.6 1116.8 L579.1 1117.7 L581.5 1118.6 L583.9 1119.4 L586.3 1120.3 L588.8 1121.1 L591.2 1121.9 L593.6 1122.7 L596.1 1123.4 L598.5 1124.2 L600.9 1124.9 L603.4 1125.6 L605.8 1126.4 L608.2 1127.2 L610.7 1127.9 L613.1 1128.8 L615.5 1129.6 L618.0 1130.5 L620.4 1131.5 L622.8 1132.5 L625.2 1133.5 L627.7 1134.7 L630.1 1135.8 L632.5 1137.1 L635.0 1138.4 L637.4 1139.7 L639.8 1141.0 L642.3 1142.3 L644.7 1143.6 L647.1 1144.9 L649.6 1146.2 L652.0 1147.6 L654.4 1148.9 L656.9 1150.2 L659.3 1151.5 L661.7 1152.8 L664.1 1154.1 L666.6 1155.3 L669.0 1156.6 L671.4 1157.8 L673.9 1159.0 L676.3 1160.2 L678.7 1161.5 L681.2 1162.8 L683.6 1164.2 L686.0 1165.6 L688.5 1167.1 L690.9 1168.6 L693.3 1170.1 L695.8 1171.5 L698.2 1172.8 L700.6 1174.0 L703.0 1175.2 L705.5 1176.4 L707.9 1177.4 L710.3 1178.5 L712.8 1179.5 L715.2 1180.4 L717.6 1181.3 L720.1 1182.2 L722.5 1183.1 L724.9 1184.0 L727.4 1184.8 L729.8 1185.6 L732.2 1186.4 L734.7 1187.2 L737.1 1188.0 L739.5 1188.7 L741.9 1189.5 L744.4 1190.2 L746.8 1190.9 L749.2 1191.5 L751.7 1192.2 L754.1 1192.9 L756.5 1193.5 L759.0 1194.1 L761.4 1194.7 L763.8 1195.3 L766.3 1195.9 L768.7 1196.5 L771.1 1197.1" fill="none" stroke="#da8890" stroke-width="2.2" stroke-linejoin="round" stroke-linecap="butt"/>
<path d="M148.7 1264.6 L151.2 1263.8 L153.6 1263.1 L156.0 1262.3 L158.4 1261.6 L160.9 1260.9 L163.3 1260.2 L165.7 1259.6 L168.2 1259.0 L170.6 1258.4 L173.0 1257.9 L175.5 1257.4 L177.9 1256.9 L180.3 1256.5 L182.8 1256.0 L185.2 1255.6 L187.6 1255.3 L190.1 1254.9 L192.5 1254.6 L194.9 1254.3 L197.3 1254.0 L199.8 1253.7 L202.2 1253.5 L204.6 1253.2 L207.1 1253.0 L209.5 1252.8 L211.9 1252.6 L214.4 1252.3 L216.8 1252.1 L219.2 1251.9 L221.7 1251.7 L224.1 1251.5 L226.5 1251.3 L229.0 1251.1 L231.4 1250.9 L233.8 1250.7 L236.2 1250.5 L238.7 1250.3 L241.1 1250.1 L243.5 1249.9 L246.0 1249.7 L248.4 1249.5 L250.8 1249.4 L253.3 1249.2 L255.7 1249.1 L258.1 1249.1 L260.6 1249.0 L263.0 1249.0 L265.4 1249.1 L267.9 1249.1 L270.3 1249.2 L272.7 1249.2 L275.1 1249.3 L277.6 1249.4 L280.0 1249.4 L282.4 1249.4 L284.9 1249.4 L287.3 1249.3 L289.7 1249.1 L292.2 1248.9 L294.6 1248.6 L297.0 1248.2 L299.5 1247.8 L301.9 1247.3 L304.3 1246.8 L306.8 1246.3 L309.2 1245.7 L311.6 1245.1 L314.0 1244.4 L316.5 1243.6 L318.9 1242.7 L321.3 1241.7 L323.8 1240.4 L326.2 1239.0 L328.6 1237.4 L331.1 1235.5 L333.5 1233.5 L335.9 1231.4 L338.4 1229.1 L340.8 1226.8 L343.2 1224.3 L345.7 1221.7 L348.1 1218.9 L350.5 1216.0 L352.9 1212.9 L355.4 1209.7 L357.8 1206.3 L360.2 1202.7 L362.7 1199.0 L365.1 1195.2 L367.5 1191.3 L370.0 1187.3 L372.4 1183.2 L374.8 1179.1 L377.3 1174.8 L379.7 1170.4 L382.1 1166.0 L384.6 1161.5 L387.0 1157.0 L389.4 1152.5 L391.9 1148.1 L394.3 1143.7 L396.7 1139.3 L399.1 1135.0 L401.6 1130.6 L404.0 1126.2 L406.4 1121.7 L408.9 1117.2 L411.3 1112.7 L413.7 1108.3 L416.2 1104.0 L418.6 1099.9 L421.0 1096.1 L423.5 1092.6 L425.9 1089.3 L428.3 1086.2 L430.8 1083.3 L433.2 1080.6 L435.6 1078.1 L438.0 1075.7 L440.5 1073.5 L442.9 1071.5 L445.3 1069.6 L447.8 1067.9 L450.2 1066.4 L452.6 1065.1 L455.1 1063.9 L457.5 1062.9 L459.9 1062.2 L462.4 1061.6 L464.8 1061.2 L467.2 1061.0 L469.6 1061.0 L472.1 1061.2 L474.5 1061.6 L476.9 1062.1 L479.4 1062.9 L481.8 1063.7 L484.2 1064.8 L486.7 1065.9 L489.1 1067.1 L491.5 1068.4 L494.0 1069.8 L496.4 1071.2 L498.8 1072.7 L501.3 1074.3 L503.7 1075.9 L506.1 1077.6 L508.6 1079.4 L511.0 1081.3 L513.4 1083.3 L515.8 1085.3 L518.3 1087.4 L520.7 1089.5 L523.1 1091.6 L525.6 1093.8 L528.0 1096.0 L530.4 1098.1 L532.9 1100.3 L535.3 1102.4 L537.7 1104.5 L540.2 1106.6 L542.6 1108.5 L545.0 1110.4 L547.5 1112.2 L549.9 1113.8 L552.3 1115.3 L554.7 1116.6 L557.2 1117.8 L559.6 1118.9 L562.0 1119.9 L564.5 1120.9 L566.9 1121.9 L569.3 1123.0 L571.8 1124.1 L574.2 1125.4 L576.6 1126.8 L579.1 1128.3 L581.5 1129.9 L583.9 1131.5 L586.3 1133.3 L588.8 1135.0 L591.2 1136.8 L593.6 1138.5 L596.1 1140.2 L598.5 1141.8 L600.9 1143.3 L603.4 1144.7 L605.8 1146.0 L608.2 1147.3 L610.7 1148.5 L613.1 1149.7 L615.5 1150.8 L618.0 1151.9 L620.4 1153.0 L622.8 1154.0 L625.2 1155.0 L627.7 1155.9 L630.1 1156.8 L632.5 1157.6 L635.0 1158.3 L637.4 1159.0 L639.8 1159.6 L642.3 1160.1 L644.7 1160.7 L647.1 1161.2 L649.6 1161.7 L652.0 1162.1 L654.4 1162.6 L656.9 1163.0 L659.3 1163.4 L661.7 1163.9 L664.1 1164.3 L666.6 1164.7 L669.0 1165.2 L671.4 1165.7 L673.9 1166.3 L676.3 1166.9 L678.7 1167.6 L681.2 1168.3 L683.6 1169.1 L686.0 1169.9 L688.5 1170.8 L690.9 1171.7 L693.3 1172.6 L695.8 1173.6 L698.2 1174.6 L700.6 1175.6 L703.0 1176.6 L705.5 1177.6 L707.9 1178.6 L710.3 1179.6 L712.8 1180.6 L715.2 1181.5 L717.6 1182.5 L720.1 1183.4 L722.5 1184.4 L724.9 1185.3 L727.4 1186.2 L729.8 1187.1 L732.2 1188.0 L734.7 1188.9 L737.1 1189.9 L739.5 1190.8 L741.9 1191.7 L744.4 1192.6 L746.8 1193.5 L749.2 1194.4 L751.7 1195.3 L754.1 1196.3 L756.5 1197.2 L759.0 1198.1 L761.4 1199.0 L763.8 1199.9 L766.3 1200.8 L768.7 1201.7 L771.1 1202.7" fill="none" stroke="#e07d86" stroke-width="2.2" stroke-linejoin="round" stroke-linecap="butt"/>
<path d="M148.7 1228.9 L151.2 1229.6 L153.6 1230.3 L156.0 1230.9 L158.4 1231.5 L160.9 1232.1 L163.3 1232.6 L165.7 1232.9 L168.2 1233.2 L170.6 1233.4 L173.0 1233.4 L175.5 1233.4 L177.9 1233.2 L180.3 1233.0 L182.8 1232.8 L185.2 1232.5 L187.6 1232.1 L190.1 1231.8 L192.5 1231.5 L194.9 1231.1 L197.3 1230.8 L199.8 1230.5 L202.2 1230.2 L204.6 1229.9 L207.1 1229.7 L209.5 1229.5 L211.9 1229.3 L214.4 1229.2 L216.8 1229.0 L219.2 1228.9 L221.7 1228.7 L224.1 1228.5 L226.5 1228.3 L229.0 1228.1 L231.4 1227.8 L233.8 1227.5 L236.2 1227.3 L238.7 1227.0 L241.1 1226.7 L243.5 1226.5 L246.0 1226.2 L248.4 1226.0 L250.8 1225.9 L253.3 1225.8 L255.7 1225.8 L258.1 1225.9 L260.6 1226.1 L263.0 1226.3 L265.4 1226.6 L267.9 1226.9 L270.3 1227.3 L272.7 1227.6 L275.1 1228.0 L277.6 1228.3 L280.0 1228.6 L282.4 1228.9 L284.9 1229.1 L287.3 1229.2 L289.7 1229.3 L292.2 1229.3 L294.6 1229.1 L297.0 1228.9 L299.5 1228.5 L301.9 1228.0 L304.3 1227.3 L306.8 1226.6 L309.2 1225.8 L311.6 1224.9 L314.0 1223.9 L316.5 1222.8 L318.9 1221.6 L321.3 1220.4 L323.8 1219.0 L326.2 1217.5 L328.6 1215.8 L331.1 1213.9 L333.5 1211.8 L335.9 1209.6 L338.4 1207.2 L340.8 1204.6 L343.2 1201.8 L345.7 1198.9 L348.1 1195.8 L350.5 1192.5 L352.9 1189.0 L355.4 1185.3 L357.8 1181.3 L360.2 1177.1 L362.7 1172.8 L365.1 1168.4 L367.5 1164.1 L370.0 1159.8 L372.4 1155.5 L374.8 1151.4 L377.3 1147.3 L379.7 1143.2 L382.1 1139.1 L384.6 1135.0 L387.0 1130.9 L389.4 1126.8 L391.9 1122.7 L394.3 1118.6 L396.7 1114.6 L399.1 1110.6 L401.6 1106.6 L404.0 1102.7 L406.4 1098.9 L408.9 1095.2 L411.3 1091.5 L413.7 1088.0 L416.2 1084.6 L418.6 1081.3 L421.0 1078.2 L423.5 1075.2 L425.9 1072.4 L428.3 1069.7 L430.8 1067.2 L433.2 1064.8 L435.6 1062.5 L438.0 1060.4 L440.5 1058.5 L442.9 1056.6 L445.3 1055.0 L447.8 1053.4 L450.2 1052.1 L452.6 1050.9 L455.1 1049.8 L457.5 1048.8 L459.9 1048.0 L462.4 1047.3 L464.8 1046.7 L467.2 1046.2 L469.6 1045.7 L472.1 1045.3 L474.5 1045.0 L476.9 1044.7 L479.4 1044.4 L481.8 1044.2 L484.2 1044.0 L486.7 1043.9 L489.1 1043.7 L491.5 1043.6 L494.0 1043.5 L496.4 1043.4 L498.8 1043.3 L501.3 1043.3 L503.7 1043.3 L506.1 1043.2 L508.6 1043.2 L511.0 1043.3 L513.4 1043.3 L515.8 1043.4 L518.3 1043.5 L520.7 1043.6 L523.1 1043.8 L525.6 1044.1 L528.0 1044.4 L530.4 1044.7 L532.9 1045.2 L535.3 1045.6 L537.7 1046.2 L540.2 1046.8 L542.6 1047.5 L545.0 1048.3 L547.5 1049.1 L549.9 1050.0 L552.3 1051.0 L554.7 1052.1 L557.2 1053.2 L559.6 1054.4 L562.0 1055.7 L564.5 1057.1 L566.9 1058.6 L569.3 1060.1 L571.8 1061.8 L574.2 1063.5 L576.6 1065.2 L579.1 1066.9 L581.5 1068.7 L583.9 1070.6 L586.3 1072.6 L588.8 1074.9 L591.2 1077.4 L593.6 1080.0 L596.1 1082.8 L598.5 1085.6 L600.9 1088.5 L603.4 1091.4 L605.8 1094.3 L608.2 1097.3 L610.7 1100.3 L613.1 1103.3 L615.5 1106.3 L618.0 1109.4 L620.4 1112.4 L622.8 1115.5 L625.2 1118.4 L627.7 1121.4 L630.1 1124.2 L632.5 1127.0 L635.0 1129.7 L637.4 1132.3 L639.8 1134.8 L642.3 1137.2 L644.7 1139.5 L647.1 1141.7 L649.6 1143.8 L652.0 1145.8 L654.4 1147.7 L656.9 1149.6 L659.3 1151.3 L661.7 1152.9 L664.1 1154.4 L666.6 1155.9 L669.0 1157.2 L671.4 1158.4 L673.9 1159.6 L676.3 1160.7 L678.7 1161.7 L681.2 1162.6 L683.6 1163.5 L686.0 1164.2 L688.5 1164.9 L690.9 1165.5 L693.3 1166.0 L695.8 1166.5 L698.2 1167.0 L700.6 1167.4 L703.0 1167.8 L705.5 1168.2 L707.9 1168.6 L710.3 1169.0 L712.8 1169.4 L715.2 1169.9 L717.6 1170.3 L720.1 1170.8 L722.5 1171.3 L724.9 1171.9 L727.4 1172.5 L729.8 1173.1 L732.2 1173.7 L734.7 1174.4 L737.1 1175.1 L739.5 1175.8 L741.9 1176.5 L744.4 1177.3 L746.8 1178.1 L749.2 1178.9 L751.7 1179.8 L754.1 1180.6 L756.5 1181.5 L759.0 1182.4 L761.4 1183.4 L763.8 1184.3 L766.3 1185.3 L768.7 1186.3 L771.1 1187.3" fill="none" stroke="#e7717d" stroke-width="2.2" stroke-linejoin="round" stroke-linecap="butt"/>
<path d="M148.7 1273.0 L151.2 1273.0 L153.6 1273.1 L156.0 1273.1 L158.4 1273.2 L160.9 1273.2 L163.3 1273.3 L165.7 1273.3 L168.2 1273.3 L170.6 1273.4 L173.0 1273.4 L175.5 1273.4 L177.9 1273.4 L180.3 1273.5 L182.8 1273.5 L185.2 1273.5 L187.6 1273.5 L190.1 1273.5 L192.5 1273.5 L194.9 1273.5 L197.3 1273.5 L199.8 1273.5 L202.2 1273.4 L204.6 1273.4 L207.1 1273.4 L209.5 1273.3 L211.9 1273.3 L214.4 1273.2 L216.8 1273.2 L219.2 1273.1 L221.7 1273.1 L224.1 1273.0 L226.5 1272.9 L229.0 1272.8 L231.4 1272.7 L233.8 1272.5 L236.2 1272.4 L238.7 1272.1 L241.1 1271.9 L243.5 1271.6 L246.0 1271.2 L248.4 1270.7 L250.8 1270.2 L253.3 1269.6 L255.7 1268.9 L258.1 1268.1 L260.6 1267.2 L263.0 1266.2 L265.4 1265.0 L267.9 1263.8 L270.3 1262.5 L272.7 1261.2 L275.1 1259.7 L277.6 1258.3 L280.0 1256.7 L282.4 1255.1 L284.9 1253.4 L287.3 1251.6 L289.7 1249.7 L292.2 1247.7 L294.6 1245.7 L297.0 1243.6 L299.5 1241.5 L301.9 1239.3 L304.3 1237.1 L306.8 1235.0 L309.2 1232.8 L311.6 1230.7 L314.0 1228.6 L316.5 1226.6 L318.9 1224.5 L321.3 1222.5 L323.8 1220.5 L326.2 1218.5 L328.6 1216.3 L331.1 1214.1 L333.5 1211.7 L335.9 1209.2 L338.4 1206.6 L340.8 1203.8 L343.2 1200.9 L345.7 1197.6 L348.1 1194.1 L350.5 1190.2 L352.9 1186.0 L355.4 1181.5 L357.8 1176.8 L360.2 1171.8 L362.7 1166.8 L365.1 1161.6 L367.5 1156.4 L370.0 1151.1 L372.4 1145.8 L374.8 1140.4 L377.3 1134.8 L379.7 1129.1 L382.1 1123.2 L384.6 1117.1 L387.0 1110.8 L389.4 1104.3 L391.9 1097.8 L394.3 1091.2 L396.7 1084.7 L399.1 1078.2 L401.6 1071.9 L404.0 1065.5 L406.4 1059.1 L408.9 1052.6 L411.3 1046.0 L413.7 1039.1 L416.2 1032.0 L418.6 1024.9 L421.0 1017.8 L423.5 1010.8 L425.9 1004.1 L428.3 997.7 L430.8 991.6 L433.2 985.7 L435.6 980.1 L438.0 974.7 L440.5 969.5 L442.9 964.5 L445.3 959.6 L447.8 954.9 L450.2 950.3 L452.6 945.8 L455.1 941.4 L457.5 937.1 L459.9 932.9 L462.4 928.8 L464.8 924.7 L467.2 920.7 L469.6 916.8 L472.1 913.0 L474.5 909.3 L476.9 905.6 L479.4 902.0 L481.8 898.5 L484.2 895.1 L486.7 891.8 L489.1 888.6 L491.5 885.5 L494.0 882.5 L496.4 879.6 L498.8 876.9 L501.3 874.4 L503.7 872.1 L506.1 870.0 L508.6 868.2 L511.0 866.7 L513.4 865.5 L515.8 864.8 L518.3 864.7 L520.7 865.2 L523.1 866.5 L525.6 868.5 L528.0 871.4 L530.4 875.1 L532.9 879.5 L535.3 884.7 L537.7 890.6 L540.2 897.1 L542.6 904.2 L545.0 911.6 L547.5 919.4 L549.9 927.4 L552.3 935.6 L554.7 943.8 L557.2 952.2 L559.6 960.5 L562.0 968.9 L564.5 977.4 L566.9 985.8 L569.3 994.3 L571.8 1002.7 L574.2 1011.1 L576.6 1019.4 L579.1 1027.5 L581.5 1035.4 L583.9 1043.0 L586.3 1050.3 L588.8 1057.3 L591.2 1064.0 L593.6 1070.3 L596.1 1076.3 L598.5 1081.9 L600.9 1087.3 L603.4 1092.3 L605.8 1097.1 L608.2 1101.7 L610.7 1106.0 L613.1 1110.2 L615.5 1114.2 L618.0 1118.0 L620.4 1121.7 L622.8 1125.2 L625.2 1128.7 L627.7 1132.1 L630.1 1135.4 L632.5 1138.8 L635.0 1142.2 L637.4 1145.5 L639.8 1148.9 L642.3 1152.3 L644.7 1155.6 L647.1 1158.8 L649.6 1161.9 L652.0 1164.9 L654.4 1167.8 L656.9 1170.8 L659.3 1173.8 L661.7 1176.8 L664.1 1179.8 L666.6 1182.9 L669.0 1185.9 L671.4 1188.8 L673.9 1191.6 L676.3 1194.3 L678.7 1196.9 L681.2 1199.3 L683.6 1201.4 L686.0 1203.4 L688.5 1205.1 L690.9 1206.6 L693.3 1207.9 L695.8 1208.9 L698.2 1209.7 L700.6 1210.2 L703.0 1210.4 L705.5 1210.3 L707.9 1210.0 L710.3 1209.4 L712.8 1208.5 L715.2 1207.4 L717.6 1206.0 L720.1 1204.4 L722.5 1202.6 L724.9 1200.6 L727.4 1198.4 L729.8 1196.1 L732.2 1193.7 L734.7 1191.2 L737.1 1188.7 L739.5 1186.2 L741.9 1183.6 L744.4 1181.0 L746.8 1178.3 L749.2 1175.6 L751.7 1172.8 L754.1 1170.0 L756.5 1167.2 L759.0 1164.4 L761.4 1161.6 L763.8 1158.8 L766.3 1156.1 L768.7 1153.4 L771.1 1150.8" fill="none" stroke="#ed6673" stroke-width="2.2" stroke-linejoin="round" stroke-linecap="butt"/>
<path d="M148.7 1274.1 L151.2 1274.1 L153.6 1274.2 L156.0 1274.2 L158.4 1274.2 L160.9 1274.3 L163.3 1274.3 L165.7 1274.4 L168.2 1274.4 L170.6 1274.4 L173.0 1274.5 L175.5 1274.5 L177.9 1274.5 L180.3 1274.5 L182.8 1274.6 L185.2 1274.6 L187.6 1274.6 L190.1 1274.6 L192.5 1274.7 L194.9 1274.7 L197.3 1274.7 L199.8 1274.7 L202.2 1274.7 L204.6 1274.7 L207.1 1274.7 L209.5 1274.7 L211.9 1274.7 L214.4 1274.7 L216.8 1274.7 L219.2 1274.7 L221.7 1274.6 L224.1 1274.6 L226.5 1274.5 L229.0 1274.4 L231.4 1274.3 L233.8 1274.2 L236.2 1274.0 L238.7 1273.7 L241.1 1273.5 L243.5 1273.2 L246.0 1272.8 L248.4 1272.4 L250.8 1271.9 L253.3 1271.3 L255.7 1270.7 L258.1 1269.9 L260.6 1269.0 L263.0 1268.0 L265.4 1266.9 L267.9 1265.6 L270.3 1264.2 L272.7 1262.7 L275.1 1261.0 L277.6 1259.2 L280.0 1257.3 L282.4 1255.3 L284.9 1253.2 L287.3 1250.9 L289.7 1248.6 L292.2 1246.1 L294.6 1243.5 L297.0 1240.8 L299.5 1237.9 L301.9 1234.8 L304.3 1231.5 L306.8 1227.9 L309.2 1224.1 L311.6 1220.2 L314.0 1215.9 L316.5 1211.5 L318.9 1207.0 L321.3 1202.3 L323.8 1197.5 L326.2 1192.5 L328.6 1187.5 L331.1 1182.4 L333.5 1177.2 L335.9 1171.8 L338.4 1166.3 L340.8 1160.7 L343.2 1154.9 L345.7 1149.0 L348.1 1142.9 L350.5 1136.7 L352.9 1130.4 L355.4 1123.9 L357.8 1117.4 L360.2 1110.8 L362.7 1104.1 L365.1 1097.4 L367.5 1090.6 L370.0 1083.9 L372.4 1077.1 L374.8 1070.3 L377.3 1063.5 L379.7 1056.7 L382.1 1049.9 L384.6 1043.2 L387.0 1036.4 L389.4 1029.6 L391.9 1022.9 L394.3 1016.1 L396.7 1009.3 L399.1 1002.5 L401.6 995.7 L404.0 988.9 L406.4 982.0 L408.9 975.2 L411.3 968.3 L413.7 961.4 L416.2 954.6 L418.6 947.7 L421.0 940.9 L423.5 934.1 L425.9 927.3 L428.3 920.6 L430.8 914.0 L433.2 907.5 L435.6 901.1 L438.0 894.8 L440.5 888.7 L442.9 882.9 L445.3 877.2 L447.8 871.7 L450.2 866.6 L452.6 861.6 L455.1 856.8 L457.5 852.2 L459.9 847.8 L462.4 843.5 L464.8 839.4 L467.2 835.5 L469.6 831.9 L472.1 828.6 L474.5 825.6 L476.9 822.9 L479.4 820.6 L481.8 818.6 L484.2 816.8 L486.7 815.3 L489.1 814.0 L491.5 813.0 L494.0 812.3 L496.4 811.8 L498.8 811.7 L501.3 811.8 L503.7 812.3 L506.1 813.0 L508.6 814.0 L511.0 815.2 L513.4 816.6 L515.8 818.2 L518.3 819.9 L520.7 821.8 L523.1 823.9 L525.6 826.3 L528.0 828.8 L530.4 831.6 L532.9 834.7 L535.3 837.9 L537.7 841.3 L540.2 844.8 L542.6 848.5 L545.0 852.3 L547.5 856.3 L549.9 860.5 L552.3 865.0 L554.7 869.8 L557.2 874.8 L559.6 880.1 L562.0 885.6 L564.5 891.1 L566.9 896.8 L569.3 902.6 L571.8 908.3 L574.2 914.0 L576.6 919.8 L579.1 925.5 L581.5 931.2 L583.9 936.8 L586.3 942.4 L588.8 947.9 L591.2 953.4 L593.6 958.7 L596.1 964.0 L598.5 969.2 L600.9 974.2 L603.4 979.1 L605.8 983.8 L608.2 988.4 L610.7 992.8 L613.1 997.1 L615.5 1001.3 L618.0 1005.3 L620.4 1009.3 L622.8 1013.2 L625.2 1017.0 L627.7 1020.7 L630.1 1024.4 L632.5 1028.0 L635.0 1031.5 L637.4 1035.0 L639.8 1038.3 L642.3 1041.5 L644.7 1044.6 L647.1 1047.6 L649.6 1050.4 L652.0 1053.1 L654.4 1055.8 L656.9 1058.3 L659.3 1060.8 L661.7 1063.2 L664.1 1065.6 L666.6 1067.9 L669.0 1070.1 L671.4 1072.4 L673.9 1074.5 L676.3 1076.7 L678.7 1078.9 L681.2 1081.0 L683.6 1083.2 L686.0 1085.3 L688.5 1087.4 L690.9 1089.5 L693.3 1091.6 L695.8 1093.7 L698.2 1095.7 L700.6 1097.8 L703.0 1099.8 L705.5 1101.9 L707.9 1103.9 L710.3 1106.0 L712.8 1108.0 L715.2 1110.0 L717.6 1112.1 L720.1 1114.1 L722.5 1116.2 L724.9 1118.2 L727.4 1120.2 L729.8 1122.3 L732.2 1124.3 L734.7 1126.4 L737.1 1128.4 L739.5 1130.4 L741.9 1132.5 L744.4 1134.5 L746.8 1136.6 L749.2 1138.6 L751.7 1140.7 L754.1 1142.8 L756.5 1144.8 L759.0 1146.9 L761.4 1149.0 L763.8 1151.1 L766.3 1153.2 L768.7 1155.3 L771.1 1157.5" fill="none" stroke="#f45b69" stroke-width="2.2" stroke-linejoin="round" stroke-linecap="butt"/>
<rect x="123.75" y="751.25" width="672.25" height="602.5" fill="none" stroke="#1a1a1a" stroke-width="1.2"/>
<line x1="139.00" y1="1353.75" x2="139.00" y2="1365.75" stroke="#1a1a1a" stroke-width="1.2"/>
<text transform="translate(139.00 1397.2) scale(0.96 1)" text-anchor="middle" class="ax">0</text>
<line x1="236.25" y1="1353.75" x2="236.25" y2="1365.75" stroke="#1a1a1a" stroke-width="1.2"/>
<text transform="translate(236.25 1397.2) scale(0.96 1)" text-anchor="middle" class="ax">10</text>
<line x1="333.50" y1="1353.75" x2="333.50" y2="1365.75" stroke="#1a1a1a" stroke-width="1.2"/>
<text transform="translate(333.50 1397.2) scale(0.96 1)" text-anchor="middle" class="ax">20</text>
<line x1="430.75" y1="1353.75" x2="430.75" y2="1365.75" stroke="#1a1a1a" stroke-width="1.2"/>
<text transform="translate(430.75 1397.2) scale(0.96 1)" text-anchor="middle" class="ax">30</text>
<line x1="528.00" y1="1353.75" x2="528.00" y2="1365.75" stroke="#1a1a1a" stroke-width="1.2"/>
<text transform="translate(528.00 1397.2) scale(0.96 1)" text-anchor="middle" class="ax">40</text>
<line x1="625.25" y1="1353.75" x2="625.25" y2="1365.75" stroke="#1a1a1a" stroke-width="1.2"/>
<text transform="translate(625.25 1397.2) scale(0.96 1)" text-anchor="middle" class="ax">50</text>
<line x1="722.50" y1="1353.75" x2="722.50" y2="1365.75" stroke="#1a1a1a" stroke-width="1.2"/>
<text transform="translate(722.50 1397.2) scale(0.96 1)" text-anchor="middle" class="ax">60</text>
<line x1="112" y1="1275.75" x2="123.75" y2="1275.75" stroke="#1a1a1a" stroke-width="1.2"/>
<text transform="translate(96 1275.75) rotate(-90) scale(0.96 1)" text-anchor="middle" class="ax">0</text>
<line x1="112" y1="1164.15" x2="123.75" y2="1164.15" stroke="#1a1a1a" stroke-width="1.2"/>
<text transform="translate(96 1164.15) rotate(-90) scale(0.96 1)" text-anchor="middle" class="ax">2</text>
<line x1="112" y1="1052.55" x2="123.75" y2="1052.55" stroke="#1a1a1a" stroke-width="1.2"/>
<text transform="translate(96 1052.55) rotate(-90) scale(0.96 1)" text-anchor="middle" class="ax">4</text>
<line x1="112" y1="940.95" x2="123.75" y2="940.95" stroke="#1a1a1a" stroke-width="1.2"/>
<text transform="translate(96 940.95) rotate(-90) scale(0.96 1)" text-anchor="middle" class="ax">6</text>
<line x1="112" y1="829.35" x2="123.75" y2="829.35" stroke="#1a1a1a" stroke-width="1.2"/>
<text transform="translate(96 829.35) rotate(-90) scale(0.96 1)" text-anchor="middle" class="ax">8</text>
<text transform="translate(48.8 1053.1) rotate(-90) scale(0.96 1)" text-anchor="middle" class="ax">Mortality</text>
</g>
</g>
<g id="panel-b">
<rect x="888.3" y="3.8" width="1109.2" height="1414.2" fill="#fff" stroke="#000" stroke-width="3"/>
<rect x="1297" y="98" width="300" height="165.5" fill="#fde7e7" stroke="#f3e0e8" stroke-width="1"/>
<rect x="1673" y="98" width="300" height="228.5" fill="#fde7e7" stroke="#f3e0e8" stroke-width="1"/>
<rect x="914.3" y="354.5" width="300.5" height="589" fill="#d6d6d6" stroke="#cfd2e0" stroke-width="1"/>
<rect x="1294" y="359" width="300.5" height="589" fill="#d6d6d6" stroke="#cfd2e0" stroke-width="1"/>
<rect x="1669" y="359" width="300.5" height="589" fill="#d6d6d6" stroke="#cfd2e0" stroke-width="1"/>
<line x1="1062.6" y1="183.0" x2="1444.3" y2="122.3" stroke="#878787" stroke-width="3.2"/>
<line x1="1062.6" y1="239.7" x2="1444.3" y2="239.7" stroke="#878787" stroke-width="3.2"/>
<line x1="1062.6" y1="298.5" x2="1444.3" y2="181.0" stroke="#878787" stroke-width="3.2"/>
<line x1="1062.6" y1="357.2" x2="1444.3" y2="357.2" stroke="#878787" stroke-width="3.2"/>
<line x1="1062.6" y1="415.9" x2="1444.3" y2="298.5" stroke="#878787" stroke-width="3.2"/>
<line x1="1062.6" y1="474.6" x2="1444.3" y2="415.9" stroke="#878787" stroke-width="3.2"/>
<line x1="1062.6" y1="533.3" x2="1444.3" y2="474.6" stroke="#878787" stroke-width="3.2"/>
<line x1="1062.6" y1="592.1" x2="1444.3" y2="592.1" stroke="#878787" stroke-width="3.2"/>
<line x1="1062.6" y1="650.8" x2="1444.3" y2="650.8" stroke="#878787" stroke-width="3.2"/>
<line x1="1062.6" y1="709.5" x2="1444.3" y2="533.3" stroke="#878787" stroke-width="3.2"/>
<line x1="1062.6" y1="768.2" x2="1444.3" y2="826.9" stroke="#878787" stroke-width="3.2"/>
<line x1="1062.6" y1="826.9" x2="1444.3" y2="1003.1" stroke="#878787" stroke-width="3.2"/>
<line x1="1062.6" y1="885.7" x2="1444.3" y2="768.2" stroke="#878787" stroke-width="3.2"/>
<line x1="1062.6" y1="944.4" x2="1444.3" y2="1061.8" stroke="#878787" stroke-width="3.2"/>
<line x1="1062.6" y1="1003.1" x2="1444.3" y2="885.7" stroke="#878787" stroke-width="3.2"/>
<line x1="1062.6" y1="1061.8" x2="1444.3" y2="944.4" stroke="#878787" stroke-width="3.2"/>
<line x1="1062.6" y1="1120.5" x2="1444.3" y2="1120.5" stroke="#878787" stroke-width="3.2"/>
<line x1="1062.6" y1="1179.3" x2="1444.3" y2="1238.0" stroke="#878787" stroke-width="3.2"/>
<line x1="1073.6" y1="1238.0" x2="1444.3" y2="709.5" stroke="#878787" stroke-width="3.2"/>
<line x1="1062.6" y1="1296.7" x2="1444.3" y2="1179.3" stroke="#878787" stroke-width="3.2"/>
<line x1="1444.3" y1="122.3" x2="1822.6" y2="122.3" stroke="#878787" stroke-width="3.2"/>
<line x1="1444.3" y1="239.7" x2="1822.6" y2="357.2" stroke="#878787" stroke-width="3.2"/>
<line x1="1444.3" y1="181.0" x2="1822.6" y2="181.0" stroke="#878787" stroke-width="3.2"/>
<line x1="1444.3" y1="357.2" x2="1822.6" y2="415.9" stroke="#878787" stroke-width="3.2"/>
<path d="M1444.3 300.5 Q1633.4 269.4 1822.6 234.2" fill="none" stroke="#878787" stroke-width="3.2"/>
<path d="M1444.3 416.9 Q1633.4 357.9 1822.6 295.0" fill="none" stroke="#878787" stroke-width="3.2"/>
<line x1="1444.3" y1="474.6" x2="1822.6" y2="474.6" stroke="#878787" stroke-width="3.2"/>
<line x1="1444.3" y1="592.1" x2="1822.6" y2="592.1" stroke="#878787" stroke-width="3.2"/>
<line x1="1444.3" y1="650.8" x2="1822.6" y2="709.5" stroke="#878787" stroke-width="3.2"/>
<line x1="1444.3" y1="533.3" x2="1822.6" y2="650.8" stroke="#878787" stroke-width="3.2"/>
<path d="M1444.3 828.9 Q1633.4 797.8 1822.6 762.7" fill="none" stroke="#878787" stroke-width="3.2"/>
<path d="M1444.3 1005.1 Q1633.4 918.0 1822.6 822.9" fill="none" stroke="#878787" stroke-width="3.2"/>
<path d="M1444.3 770.2 Q1633.4 652.5 1822.6 526.8" fill="none" stroke="#878787" stroke-width="3.2"/>
<line x1="1444.3" y1="1061.8" x2="1822.6" y2="1238.0" stroke="#878787" stroke-width="3.2"/>
<line x1="1444.3" y1="885.7" x2="1822.6" y2="1003.1" stroke="#878787" stroke-width="3.2"/>
<line x1="1444.3" y1="944.4" x2="1822.6" y2="1179.3" stroke="#878787" stroke-width="3.2"/>
<path d="M1444.3 1122.5 Q1633.4 1036.7 1822.6 938.9" fill="none" stroke="#878787" stroke-width="3.2"/>
<path d="M1444.3 1240.0 Q1633.4 1180.8 1822.6 1115.5" fill="none" stroke="#878787" stroke-width="3.2"/>
<line x1="1444.3" y1="709.5" x2="1822.6" y2="1061.8" stroke="#878787" stroke-width="3.2"/>
<path d="M1444.3 1181.3 Q1633.4 1036.2 1822.6 879.2" fill="none" stroke="#878787" stroke-width="3.2"/>
<circle cx="1062.6" cy="186.1" r="12.7" fill="#f65c6c"/>
<circle cx="1062.6" cy="244.8" r="12.7" fill="#f06876"/>
<circle cx="1062.6" cy="303.5" r="12.7" fill="#ea7380"/>
<circle cx="1062.6" cy="362.3" r="12.7" fill="#e47f8a"/>
<circle cx="1062.6" cy="421.0" r="12.7" fill="#de8a94"/>
<circle cx="1062.6" cy="479.7" r="12.7" fill="#d7969d"/>
<circle cx="1062.6" cy="538.4" r="12.7" fill="#d1a1a7"/>
<circle cx="1062.6" cy="597.1" r="12.7" fill="#cbadb1"/>
<circle cx="1062.6" cy="655.9" r="12.7" fill="#c5b8bb"/>
<circle cx="1062.6" cy="714.6" r="12.7" fill="#bcbdc3"/>
<circle cx="1062.6" cy="773.3" r="12.7" fill="#afbbc8"/>
<circle cx="1062.6" cy="832.0" r="12.7" fill="#a3b8ce"/>
<circle cx="1062.6" cy="890.7" r="12.7" fill="#96b6d4"/>
<circle cx="1062.6" cy="949.5" r="12.7" fill="#89b4d9"/>
<circle cx="1062.6" cy="1008.2" r="12.7" fill="#7db1df"/>
<circle cx="1062.6" cy="1066.9" r="12.7" fill="#70afe5"/>
<circle cx="1062.6" cy="1125.6" r="12.7" fill="#64adea"/>
<circle cx="1062.6" cy="1184.3" r="12.7" fill="#57abf0"/>
<circle cx="1062.6" cy="1243.1" r="12.7" fill="#4ba8f5"/>
<circle cx="1062.6" cy="1301.8" r="12.7" fill="#3ea6fb"/>
<circle cx="1444.3" cy="128.9" r="12.7" fill="#f65c6c"/>
<circle cx="1444.3" cy="187.6" r="12.7" fill="#f06876"/>
<circle cx="1444.3" cy="246.3" r="12.7" fill="#ea7380"/>
<circle cx="1444.3" cy="305.1" r="12.7" fill="#e47f8a"/>
<circle cx="1444.3" cy="363.8" r="12.7" fill="#de8a94"/>
<circle cx="1444.3" cy="422.5" r="12.7" fill="#d7969d"/>
<circle cx="1444.3" cy="481.2" r="12.7" fill="#d1a1a7"/>
<circle cx="1444.3" cy="539.9" r="12.7" fill="#cbadb1"/>
<circle cx="1444.3" cy="598.7" r="12.7" fill="#c5b8bb"/>
<circle cx="1444.3" cy="657.4" r="12.7" fill="#bcbdc3"/>
<circle cx="1444.3" cy="716.1" r="12.7" fill="#afbbc8"/>
<circle cx="1444.3" cy="774.8" r="12.7" fill="#a3b8ce"/>
<circle cx="1444.3" cy="833.5" r="12.7" fill="#96b6d4"/>
<circle cx="1444.3" cy="892.3" r="12.7" fill="#89b4d9"/>
<circle cx="1444.3" cy="951.0" r="12.7" fill="#7db1df"/>
<circle cx="1444.3" cy="1009.7" r="12.7" fill="#70afe5"/>
<circle cx="1444.3" cy="1068.4" r="12.7" fill="#64adea"/>
<circle cx="1444.3" cy="1127.1" r="12.7" fill="#57abf0"/>
<circle cx="1444.3" cy="1185.9" r="12.7" fill="#4ba8f5"/>
<circle cx="1444.3" cy="1244.6" r="12.7" fill="#3ea6fb"/>
<circle cx="1822.6" cy="128.9" r="12.7" fill="#f65c6c"/>
<circle cx="1822.6" cy="187.6" r="12.7" fill="#f06876"/>
<circle cx="1822.6" cy="246.3" r="12.7" fill="#ea7380"/>
<circle cx="1822.6" cy="305.1" r="12.7" fill="#e47f8a"/>
<circle cx="1822.6" cy="363.8" r="12.7" fill="#de8a94"/>
<circle cx="1822.6" cy="422.5" r="12.7" fill="#d7969d"/>
<circle cx="1822.6" cy="481.2" r="12.7" fill="#d1a1a7"/>
<circle cx="1822.6" cy="539.9" r="12.7" fill="#cbadb1"/>
<circle cx="1822.6" cy="598.7" r="12.7" fill="#c5b8bb"/>
<circle cx="1822.6" cy="657.4" r="12.7" fill="#bcbdc3"/>
<circle cx="1822.6" cy="716.1" r="12.7" fill="#afbbc8"/>
<circle cx="1822.6" cy="774.8" r="12.7" fill="#a3b8ce"/>
<circle cx="1822.6" cy="833.5" r="12.7" fill="#96b6d4"/>
<circle cx="1822.6" cy="892.3" r="12.7" fill="#89b4d9"/>
<circle cx="1822.6" cy="951.0" r="12.7" fill="#7db1df"/>
<circle cx="1822.6" cy="1009.7" r="12.7" fill="#70afe5"/>
<circle cx="1822.6" cy="1068.4" r="12.7" fill="#64adea"/>
<circle cx="1822.6" cy="1127.1" r="12.7" fill="#57abf0"/>
<circle cx="1822.6" cy="1185.9" r="12.7" fill="#4ba8f5"/>
<circle cx="1822.6" cy="1244.6" r="12.7" fill="#3ea6fb"/>
<text transform="translate(1071.4 51.9) scale(0.59 1)" text-anchor="middle" class="hd">ISTAT</text>
<text x="1062.6" y="197.7" text-anchor="middle" class="lb">Lombardia</text>
<text x="1062.6" y="256.4" text-anchor="middle" class="lb">Liguria</text>
<text x="1062.6" y="315.1" text-anchor="middle" class="lb">Valle d&#39;Aosta</text>
<text x="1062.6" y="373.9" text-anchor="middle" class="lb">Trento/Bolzano</text>
<text x="1062.6" y="432.6" text-anchor="middle" class="lb">Piemonte</text>
<text x="1062.6" y="491.3" text-anchor="middle" class="lb">Emilia–Romagna</text>
<text x="1062.6" y="550.0" text-anchor="middle" class="lb">Marche</text>
<text x="1062.6" y="608.7" text-anchor="middle" class="lb">Veneto</text>
<text x="1062.6" y="667.5" text-anchor="middle" class="lb" font-weight="bold" style="font-size:31.6px">Toscana</text>
<text x="1062.6" y="726.2" text-anchor="middle" class="lb">Friuli Venezia Giulia</text>
<text x="1062.6" y="784.9" text-anchor="middle" class="lb">Sardegna</text>
<text x="1062.6" y="843.6" text-anchor="middle" class="lb">Puglia</text>
<text x="1062.6" y="902.3" text-anchor="middle" class="lb">Abruzzo</text>
<text x="1062.6" y="961.1" text-anchor="middle" class="lb">Calabria</text>
<text x="1062.6" y="1019.8" text-anchor="middle" class="lb">Umbria</text>
<text x="1062.6" y="1078.5" text-anchor="middle" class="lb">Basilicata</text>
<text x="1062.6" y="1137.2" text-anchor="middle" class="lb">Campania</text>
<text x="1062.6" y="1195.9" text-anchor="middle" class="lb">Sicilia</text>
<text x="1062.6" y="1254.7" text-anchor="middle" class="lb">Molise</text>
<text x="1062.6" y="1313.4" text-anchor="middle" class="lb">Lazio</text>
<text transform="translate(1438.5 53.2) scale(0.59 1)" text-anchor="middle" class="hd">MAX</text>
<text x="1444.3" y="140.5" text-anchor="middle" class="lb">Lombardia</text>
<text x="1444.3" y="199.2" text-anchor="middle" class="lb">Valle d&#39;Aosta</text>
<text x="1444.3" y="257.9" text-anchor="middle" class="lb">Liguria</text>
<text x="1444.3" y="316.7" text-anchor="middle" class="lb">Piemonte</text>
<text x="1444.3" y="375.4" text-anchor="middle" class="lb">Trento/Bolzano</text>
<text x="1444.3" y="434.1" text-anchor="middle" class="lb">Emilia–Romagna</text>
<text x="1444.3" y="492.8" text-anchor="middle" class="lb">Marche</text>
<text x="1444.3" y="551.5" text-anchor="middle" class="lb">Friuli Venezia Giulia</text>
<text x="1444.3" y="610.3" text-anchor="middle" class="lb">Veneto</text>
<text x="1444.3" y="669.0" text-anchor="middle" class="lb" font-weight="bold" style="font-size:31.6px">Toscana</text>
<text x="1444.3" y="727.7" text-anchor="middle" class="lb">Molise</text>
<text x="1444.3" y="786.4" text-anchor="middle" class="lb">Abruzzo</text>
<text x="1444.3" y="845.1" text-anchor="middle" class="lb">Sardegna</text>
<text x="1444.3" y="903.9" text-anchor="middle" class="lb">Umbria</text>
<text x="1444.3" y="962.6" text-anchor="middle" class="lb">Basilicata</text>
<text x="1444.3" y="1021.3" text-anchor="middle" class="lb">Puglia</text>
<text x="1444.3" y="1080.0" text-anchor="middle" class="lb">Calabria</text>
<text x="1444.3" y="1138.7" text-anchor="middle" class="lb">Campania</text>
<text x="1444.3" y="1197.5" text-anchor="middle" class="lb">Lazio</text>
<text x="1444.3" y="1256.2" text-anchor="middle" class="lb">Sicilia</text>
<text transform="translate(1818.5 53.2) scale(0.59 1)" text-anchor="middle" class="hd">DPC</text>
<text x="1822.6" y="140.5" text-anchor="middle" class="lb">Lombardia</text>
<text x="1822.6" y="199.2" text-anchor="middle" class="lb">Valle d&#39;Aosta</text>
<text x="1822.6" y="257.9" text-anchor="middle" class="lb">Piemonte</text>
<text x="1822.6" y="316.7" text-anchor="middle" class="lb">Emilia–Romagna</text>
<text x="1822.6" y="375.4" text-anchor="middle" class="lb">Liguria</text>
<text x="1822.6" y="434.1" text-anchor="middle" class="lb">Trento/Bolzano</text>
<text x="1822.6" y="492.8" text-anchor="middle" class="lb">Marche</text>
<text x="1822.6" y="551.5" text-anchor="middle" class="lb">Abruzzo</text>
<text x="1822.6" y="610.3" text-anchor="middle" class="lb">Veneto</text>
<text x="1822.6" y="669.0" text-anchor="middle" class="lb" font-weight="bold" style="font-size:31.6px">Friuli Venezia Giulia</text>
<text x="1822.6" y="727.7" text-anchor="middle" class="lb">Toscana</text>
<text x="1822.6" y="786.4" text-anchor="middle" class="lb">Sardegna</text>
<text x="1822.6" y="845.1" text-anchor="middle" class="lb">Puglia</text>
<text x="1822.6" y="903.9" text-anchor="middle" class="lb">Lazio</text>
<text x="1822.6" y="962.6" text-anchor="middle" class="lb">Campania</text>
<text x="1822.6" y="1021.3" text-anchor="middle" class="lb">Umbria</text>
<text x="1822.6" y="1080.0" text-anchor="middle" class="lb">Molise</text>
<text x="1822.6" y="1138.7" text-anchor="middle" class="lb">Sicilia</text>
<text x="1822.6" y="1197.5" text-anchor="middle" class="lb">Basilicata</text>
<text x="1822.6" y="1256.2" text-anchor="middle" class="lb">Calabria</text>
</g>
<text x="434.6" y="1462.3" text-anchor="middle" class="cap">(a)</text>
<text x="1442.5" y="1462.3" text-anchor="middle" class="cap">(b)</text>
</svg>
</body></html>
